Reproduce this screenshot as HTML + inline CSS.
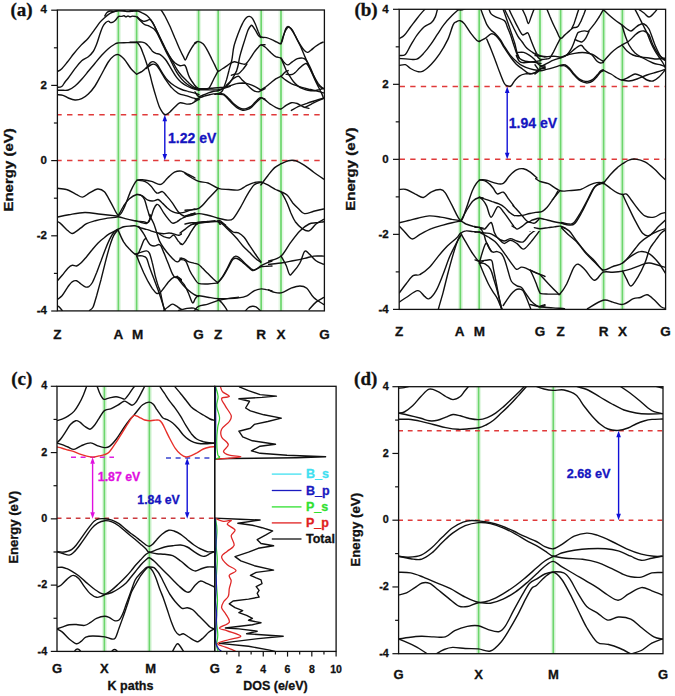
<!DOCTYPE html>
<html><head><meta charset="utf-8"><style>
html,body{margin:0;padding:0;background:#fff;width:675px;height:696px;overflow:hidden}
svg{display:block}
</style></head><body>
<svg width="675" height="696" viewBox="0 0 675 696">
<rect width="675" height="696" fill="#fff"/>
<defs><clipPath id="ca"><rect x="57.4" y="10.0" width="267.0" height="300.9"/></clipPath><clipPath id="cb"><rect x="399.2" y="9.3" width="266.40000000000003" height="300.09999999999997"/></clipPath><clipPath id="cc"><rect x="57.0" y="386.3" width="157.7" height="265.09999999999997"/></clipPath><clipPath id="cd"><rect x="398.6" y="386.7" width="264.4" height="267.00000000000006"/></clipPath><clipPath id="ccd"><rect x="214.7" y="386.3" width="121.40000000000003" height="265.09999999999997"/></clipPath></defs>
<line x1="118.4" y1="10.0" x2="118.4" y2="310.9" stroke="#e4f7e4" stroke-width="5.0"/>
<line x1="118.4" y1="10.0" x2="118.4" y2="310.9" stroke="#6cd66c" stroke-width="1.7"/>
<line x1="136.6" y1="10.0" x2="136.6" y2="310.9" stroke="#e4f7e4" stroke-width="5.0"/>
<line x1="136.6" y1="10.0" x2="136.6" y2="310.9" stroke="#6cd66c" stroke-width="1.7"/>
<line x1="198.6" y1="10.0" x2="198.6" y2="310.9" stroke="#e4f7e4" stroke-width="5.0"/>
<line x1="198.6" y1="10.0" x2="198.6" y2="310.9" stroke="#6cd66c" stroke-width="1.7"/>
<line x1="218.2" y1="10.0" x2="218.2" y2="310.9" stroke="#e4f7e4" stroke-width="5.0"/>
<line x1="218.2" y1="10.0" x2="218.2" y2="310.9" stroke="#6cd66c" stroke-width="1.7"/>
<line x1="261.2" y1="10.0" x2="261.2" y2="310.9" stroke="#e4f7e4" stroke-width="5.0"/>
<line x1="261.2" y1="10.0" x2="261.2" y2="310.9" stroke="#6cd66c" stroke-width="1.7"/>
<line x1="281.0" y1="10.0" x2="281.0" y2="310.9" stroke="#e4f7e4" stroke-width="5.0"/>
<line x1="281.0" y1="10.0" x2="281.0" y2="310.9" stroke="#6cd66c" stroke-width="1.7"/>
<line x1="57.4" y1="114.728" x2="324.4" y2="114.728" stroke="#e03a3a" stroke-width="1.5" stroke-dasharray="5.4 5.35" stroke-dashoffset="1.1"/>
<line x1="57.4" y1="160.6" x2="324.4" y2="160.6" stroke="#e03a3a" stroke-width="1.5" stroke-dasharray="5.4 5.35" stroke-dashoffset="1.1"/>
<g clip-path="url(#ca)" fill="none" stroke-linejoin="round" stroke-linecap="round">
<mask id="m_a" maskUnits="userSpaceOnUse" x="0" y="0" width="675" height="696"><rect x="0" y="0" width="675" height="696" fill="#fff"/><rect x="182" y="225" width="86" height="86" fill="#000"/></mask>
<g mask="url(#m_a)">
<path d="M57.1,71.6 C57.8,71.2 59.5,70.9 61.2,69.3 C62.9,67.7 65.3,64.6 67.4,62.0 C69.5,59.4 71.5,56.5 73.7,53.7 C76.0,50.9 78.5,48.0 80.9,45.4 C83.3,42.8 86.0,40.8 88.2,38.2 C90.5,35.6 92.5,32.5 94.4,29.9 C96.3,27.3 97.9,24.7 99.6,22.6 C101.3,20.5 103.1,18.9 104.8,17.4 C106.5,15.8 108.3,14.3 110.0,13.3 C111.7,12.3 113.7,11.7 115.1,11.2 C116.5,10.7 116.6,10.5 118.3,10.4 C120.0,10.3 123.9,10.4 125.0,10.4" stroke="#111" stroke-width="1.4"/>
<path d="M104.8,16.0 C105.2,15.4 106.1,13.3 107.0,12.5 C107.9,11.7 108.8,11.2 110.0,11.0 C111.2,10.8 112.6,11.5 114.0,11.5 C115.4,11.5 116.1,10.8 118.3,10.8 C120.5,10.8 124.5,11.4 127.0,11.5 C129.4,11.6 131.3,11.3 133.0,11.2 C134.7,11.1 136.3,11.0 137.0,11.0" stroke="#111" stroke-width="1.4"/>
<path d="M57.1,87.3 C57.9,87.2 60.4,87.4 61.7,86.5 C63.0,85.6 63.9,83.4 65.0,82.0 C66.1,80.6 66.6,80.2 68.3,78.0 C70.0,75.8 72.8,71.6 75.0,68.7 C77.2,65.8 79.5,62.7 81.7,60.7 C83.9,58.7 86.4,58.2 88.3,56.7 C90.2,55.2 91.8,53.5 93.2,51.5 C94.6,49.5 95.4,47.2 96.5,44.5 C97.6,41.8 98.6,38.0 99.6,35.0 C100.6,32.0 101.7,28.9 102.7,26.8 C103.7,24.7 104.8,23.6 105.8,22.6 C106.8,21.7 107.6,21.1 108.4,21.1 C109.2,21.1 109.7,22.4 110.5,22.6 C111.3,22.8 112.3,22.4 113.1,22.1 C113.9,21.8 114.4,21.3 115.1,20.6 C115.8,19.9 116.6,18.7 117.2,18.0 C117.8,17.3 118.1,16.7 118.8,16.4 C119.5,16.1 120.5,16.5 121.4,16.4 C122.3,16.3 123.2,15.7 124.0,15.8 C124.8,15.9 125.3,16.8 126.0,16.8 C126.7,16.8 127.3,16.0 128.0,16.0 C128.7,16.0 129.3,16.8 130.0,16.8 C130.7,16.8 131.1,16.2 132.0,16.2 C132.9,16.1 134.9,16.4 135.5,16.5" stroke="#111" stroke-width="1.4"/>
<path d="M57.3,90.3 C58.2,90.3 61.2,90.3 63.0,90.3 C64.8,90.2 66.3,90.7 68.3,90.0 C70.3,89.3 72.8,87.8 75.0,86.0 C77.2,84.2 79.5,81.8 81.7,79.3 C83.9,76.8 86.1,74.0 88.3,71.3 C90.5,68.6 92.8,66.0 95.0,63.3 C97.2,60.6 99.5,57.7 101.7,55.3 C103.9,52.9 106.1,50.6 108.3,48.7 C110.5,46.8 113.3,45.0 115.0,44.0 C116.7,43.0 116.3,43.1 118.3,42.9 C120.3,42.7 124.0,42.7 127.0,42.6 C130.1,42.5 135.0,42.5 136.6,42.5" stroke="#111" stroke-width="1.4"/>
<path d="M57.3,94.7 C58.2,94.8 61.2,94.8 63.0,95.3 C64.8,95.8 66.3,97.2 68.3,98.0 C70.3,98.8 72.8,99.9 75.0,100.0 C77.2,100.1 79.5,99.7 81.7,98.7 C83.9,97.7 86.1,96.1 88.3,94.0 C90.5,91.9 92.8,89.3 95.0,86.0 C97.2,82.7 99.5,78.0 101.7,74.0 C103.9,70.0 106.3,65.0 108.3,62.0 C110.3,59.0 112.0,57.2 113.7,56.0 C115.4,54.8 116.5,54.2 118.3,54.7 C120.1,55.2 122.2,57.0 124.3,59.3 C126.4,61.6 128.9,66.2 131.0,68.7 C133.1,71.2 135.7,73.3 136.6,74.2" stroke="#111" stroke-width="1.4"/>
<path d="M161.0,9.8 C161.6,10.7 163.0,12.7 164.5,15.3 C165.9,18.0 167.9,22.0 169.7,25.7 C171.4,29.4 173.1,33.7 174.8,37.8 C176.6,41.8 178.6,46.7 180.0,49.8 C181.4,53.0 182.5,55.1 183.4,56.7 C184.4,58.4 184.7,60.4 185.5,59.8 C186.4,59.3 187.2,55.8 188.6,53.3 C190.0,50.7 192.5,46.4 193.8,44.7 C195.1,42.9 195.9,42.9 196.4,42.6" stroke="#111" stroke-width="1.4"/>
<path d="M130.0,10.7 C131.1,10.7 134.9,10.3 136.9,10.7 C138.9,11.0 140.3,11.9 142.1,12.8 C143.8,13.6 145.5,14.1 147.2,15.7 C149.0,17.3 150.8,19.7 152.4,22.2 C154.0,24.8 155.3,27.8 156.7,30.9 C158.2,33.9 159.6,37.3 161.0,40.3 C162.5,43.4 163.9,46.2 165.3,49.0 C166.8,51.7 168.1,54.4 169.7,56.7 C171.2,59.0 173.1,61.3 174.8,62.8 C176.6,64.3 178.4,65.3 180.0,65.7 C181.6,66.1 183.3,64.7 184.3,65.0 C185.3,65.3 185.2,65.3 186.0,67.4 C186.9,69.5 188.0,74.5 189.5,77.4 C190.9,80.4 193.1,83.2 194.7,85.2 C196.2,87.1 198.2,88.3 199.0,89.0" stroke="#111" stroke-width="1.4"/>
<path d="M136.9,16.7 C137.5,17.2 139.2,18.9 140.3,19.7 C141.5,20.4 142.6,21.2 143.8,21.4 C144.9,21.5 146.1,20.8 147.2,20.5 C148.3,20.2 149.2,18.9 150.3,19.7 C151.5,20.5 152.9,23.2 154.1,25.3 C155.3,27.5 156.3,29.9 157.6,32.6 C158.9,35.2 160.5,38.3 161.9,41.2 C163.3,44.1 164.6,47.2 166.2,50.2 C167.8,53.2 169.7,56.2 171.4,59.3 C173.1,62.4 174.8,66.1 176.6,68.8 C178.3,71.5 180.0,73.7 181.7,75.7 C183.4,77.7 185.2,79.2 186.9,80.9 C188.6,82.5 190.3,84.4 192.1,85.7 C193.8,87.0 196.1,88.1 197.2,88.6 C198.4,89.2 198.7,88.9 199.0,89.0" stroke="#111" stroke-width="1.4"/>
<path d="M136.9,17.1 C138.0,18.2 141.8,22.5 143.8,24.0 C145.8,25.5 147.2,25.2 149.0,26.0 C150.7,26.9 152.6,27.7 154.1,29.1 C155.6,30.6 156.6,32.4 157.9,34.7 C159.2,37.0 160.5,40.1 161.9,42.9 C163.3,45.8 164.6,48.7 166.2,51.9 C167.8,55.1 169.7,58.5 171.4,61.9 C173.1,65.3 174.8,69.4 176.6,72.2 C178.3,75.1 180.0,77.2 181.7,79.1 C183.4,81.1 185.2,82.6 186.9,84.0 C188.6,85.3 190.1,86.4 192.1,87.4 C194.1,88.4 197.8,89.4 199.0,89.8" stroke="#111" stroke-width="1.4"/>
<path d="M130.0,42.1 C131.1,42.1 134.9,42.1 136.9,42.1 C138.9,42.1 140.6,41.9 142.1,42.1 C143.5,42.3 144.4,42.5 145.5,43.3 C146.7,44.1 147.8,45.4 149.0,46.7 C150.1,48.0 151.3,50.1 152.4,51.2 C153.6,52.3 154.7,52.8 155.9,53.3 C157.0,53.8 158.2,53.6 159.3,54.1 C160.5,54.7 161.6,55.7 162.8,56.7 C163.9,57.8 164.8,58.4 166.2,60.5 C167.6,62.6 169.7,66.3 171.4,69.1 C173.1,72.0 174.8,75.2 176.6,77.4 C178.3,79.7 180.0,81.1 181.7,82.6 C183.4,84.0 185.2,85.1 186.9,86.0 C188.6,87.0 190.1,87.7 192.1,88.4 C194.1,89.2 197.8,90.0 199.0,90.3" stroke="#111" stroke-width="1.4"/>
<path d="M136.9,42.1 C137.5,42.8 139.2,44.5 140.3,46.7 C141.5,48.9 142.6,52.2 143.8,55.3 C144.9,58.4 146.2,62.2 147.2,65.3 C148.2,68.4 149.0,70.8 149.8,74.0 C150.7,77.1 151.4,80.6 152.4,84.3 C153.4,88.0 154.7,92.6 155.9,96.4 C157.0,100.1 158.2,104.0 159.3,106.7 C160.5,109.5 161.8,111.4 162.8,112.8 C163.8,114.1 164.2,114.7 165.3,114.7 C166.5,114.6 168.1,113.5 169.7,112.2 C171.2,111.0 173.1,108.6 174.8,107.1 C176.6,105.5 178.0,103.2 180.0,102.8 C182.0,102.3 184.9,104.1 186.9,104.1 C188.9,104.2 190.1,104.1 192.1,103.3 C194.1,102.4 197.8,99.8 199.0,99.1" stroke="#111" stroke-width="1.4"/>
<path d="M136.9,74.0 C137.8,73.5 140.3,72.6 142.1,71.4 C143.8,70.2 145.8,68.2 147.2,66.7 C148.7,65.2 149.5,63.2 150.7,62.4 C151.8,61.6 153.0,61.5 154.1,61.9 C155.3,62.3 156.1,63.0 157.6,65.0 C159.0,67.0 161.0,71.0 162.8,73.6 C164.5,76.2 165.9,78.4 167.9,80.5 C169.9,82.6 172.5,84.5 174.8,86.0 C177.1,87.5 179.4,88.6 181.7,89.5 C184.0,90.4 186.3,90.9 188.6,91.6 C190.9,92.2 193.8,92.8 195.5,93.3 C197.2,93.8 198.4,94.4 199.0,94.7" stroke="#111" stroke-width="1.4"/>
<path d="M146.4,68.4 C147.2,67.8 150.0,65.1 151.6,64.5 C153.1,63.9 154.4,64.0 155.9,65.0 C157.3,66.0 158.6,68.2 160.2,70.5 C161.8,72.9 163.5,76.3 165.3,79.1 C167.2,82.0 169.2,85.1 171.4,87.4 C173.5,89.8 175.7,91.9 178.3,93.3 C180.9,94.7 184.3,95.1 186.9,95.9 C189.5,96.7 191.8,97.5 193.8,98.1 C195.8,98.7 198.1,99.3 199.0,99.5" stroke="#111" stroke-width="1.4"/>
<path d="M195.0,42.6 C195.6,42.4 197.2,41.3 198.6,41.6 C200.0,41.8 201.8,42.7 203.3,44.1 C204.8,45.6 206.1,48.0 207.4,50.4 C208.8,52.8 210.4,56.2 211.6,58.7 C212.8,61.1 213.6,62.8 214.7,64.9 C215.8,67.0 216.8,70.4 218.0,71.1 C219.2,71.8 220.6,69.8 222.0,69.0 C223.3,68.3 224.7,67.4 226.1,66.4 C227.5,65.5 228.9,64.1 230.3,63.3 C231.6,62.6 233.0,61.9 234.4,61.8 C235.8,61.7 237.2,62.5 238.6,62.8 C239.9,63.2 241.5,63.7 242.7,63.9 C243.9,64.0 244.6,64.7 245.8,63.9 C247.0,63.0 248.6,60.6 250.0,58.7 C251.3,56.8 252.7,54.3 254.1,52.4 C255.5,50.5 257.2,48.5 258.3,47.3 C259.3,46.0 259.4,45.6 260.5,45.2 C261.7,44.8 264.3,44.8 265.0,44.7" stroke="#111" stroke-width="1.4"/>
<path d="M195.0,88.7 C195.9,88.8 198.5,89.2 200.2,89.3 C201.9,89.3 204.0,89.3 205.4,89.3 C206.8,89.2 207.4,89.7 208.5,88.7 C209.5,87.8 210.6,85.5 211.6,83.6 C212.6,81.7 213.6,79.4 214.7,77.3 C215.8,75.3 217.5,72.1 218.0,71.1" stroke="#111" stroke-width="1.4"/>
<path d="M195.0,91.9 C195.6,92.6 197.2,96.0 198.6,96.5 C200.0,97.0 201.7,95.6 203.3,95.0 C204.9,94.4 206.8,93.5 208.5,92.9 C210.2,92.3 212.1,91.7 213.7,91.3 C215.3,91.0 216.5,91.2 218.0,90.8 C219.6,90.4 221.3,89.8 223.0,88.7 C224.7,87.7 226.6,86.2 228.2,84.6 C229.7,83.0 231.0,81.1 232.3,78.9 C233.7,76.6 235.8,72.4 236.5,71.1" stroke="#111" stroke-width="1.4"/>
<path d="M231.3,75.3 C231.8,75.1 233.2,74.5 234.4,74.2 C235.6,74.0 237.2,74.5 238.6,73.7 C239.9,72.9 241.3,71.2 242.7,69.6 C244.1,67.9 246.2,65.0 246.9,64.1" stroke="#111" stroke-width="1.4"/>
<path d="M226.1,85.6 C226.8,84.9 228.9,82.8 230.3,81.5 C231.6,80.2 233.0,78.7 234.4,77.9 C235.8,77.0 237.3,76.0 238.6,76.3 C239.8,76.6 240.5,78.2 241.7,79.4 C242.9,80.6 244.4,82.2 245.8,83.6 C247.2,84.9 248.6,86.5 250.0,87.7 C251.3,88.9 252.7,90.1 254.1,90.8 C255.5,91.5 257.2,91.9 258.3,91.9 C259.3,91.9 259.4,91.3 260.5,90.8 C261.7,90.3 264.3,89.1 265.0,88.7" stroke="#111" stroke-width="1.4"/>
<path d="M195.0,87.7 C195.6,87.9 196.9,88.6 198.6,88.7 C200.4,88.9 203.4,88.8 205.4,88.7 C207.4,88.7 208.4,88.4 210.6,88.2 C212.7,88.0 215.8,87.9 218.0,87.7 C220.3,87.5 222.0,87.5 224.0,87.2 C226.1,86.8 228.2,86.2 230.3,85.6 C232.3,85.0 234.4,84.0 236.5,83.6 C238.6,83.1 240.6,83.0 242.7,83.0 C244.8,83.1 246.9,83.5 248.9,84.1 C251.0,84.7 253.2,85.7 255.1,86.7 C257.1,87.6 259.6,89.3 260.5,89.8" stroke="#111" stroke-width="1.4"/>
<path d="M198.6,89.8 C199.8,89.8 202.1,89.8 205.4,89.8 C208.6,89.8 214.6,90.1 218.0,89.8 C221.5,89.4 224.1,88.3 226.1,87.7 C228.2,87.1 229.6,86.4 230.3,86.1" stroke="#111" stroke-width="1.4"/>
<path d="M195.0,100.1 C195.6,99.8 197.2,98.7 198.6,98.1 C200.0,97.5 201.7,97.0 203.3,96.5 C204.9,96.0 206.8,95.4 208.5,95.0 C210.2,94.5 212.1,94.1 213.7,93.9 C215.3,93.8 216.5,93.9 218.0,93.9 C219.6,93.9 221.7,93.6 223.0,93.9 C224.3,94.3 224.9,95.0 226.1,96.0 C227.3,97.0 228.9,98.8 230.3,100.1 C231.6,101.5 233.0,103.1 234.4,104.3 C235.8,105.5 237.2,106.6 238.6,107.4 C239.9,108.2 241.3,108.8 242.7,109.0 C244.1,109.1 245.5,108.9 246.9,108.4 C248.2,108.0 249.6,107.4 251.0,106.4 C252.4,105.3 253.9,103.4 255.1,102.2 C256.4,101.0 257.4,99.9 258.3,99.1 C259.2,98.3 259.4,97.6 260.5,97.6 C261.7,97.6 264.3,98.9 265.0,99.1" stroke="#111" stroke-width="1.4"/>
<path d="M218.0,94.4 C218.9,94.5 221.7,94.2 223.0,94.7 C224.3,95.1 224.9,95.9 226.1,97.0 C227.3,98.2 228.9,100.0 230.3,101.4 C231.6,102.8 233.0,104.3 234.4,105.5 C235.8,106.8 237.2,107.9 238.6,108.7 C239.9,109.4 241.3,110.0 242.7,110.2 C244.1,110.4 245.5,110.1 246.9,109.7 C248.2,109.3 249.6,108.7 251.0,107.6 C252.4,106.6 253.6,105.0 255.1,103.5 C256.7,102.0 259.6,99.4 260.5,98.6" stroke="#111" stroke-width="1.4"/>
<path d="M214.9,94.4 C215.7,94.1 218.3,93.7 219.5,93.0 C220.8,92.4 221.3,92.9 222.5,90.7 C223.6,88.5 225.4,83.2 226.5,79.9 C227.5,76.5 228.0,74.0 228.9,70.7 C229.7,67.4 231.0,64.2 231.8,60.1 C232.7,56.1 232.8,51.0 233.9,46.5 C235.0,42.0 236.9,37.1 238.3,33.2 C239.8,29.2 241.4,25.4 242.8,22.8 C244.1,20.2 245.4,18.7 246.5,17.6 C247.6,16.6 248.5,16.3 249.4,16.4 C250.4,16.6 251.4,17.1 252.4,18.4 C253.4,19.7 254.4,22.1 255.4,24.3 C256.4,26.5 257.4,29.6 258.3,31.7 C259.3,33.8 259.6,35.9 261.0,36.9 C262.4,37.9 264.6,37.1 266.5,37.6 C268.4,38.1 270.7,39.1 272.4,39.9 C274.1,40.6 275.4,41.5 276.9,42.1 C278.3,42.7 279.9,44.5 281.0,43.6 C282.1,42.6 282.7,38.6 283.5,36.1 C284.3,33.7 285.0,30.3 285.7,28.7 C286.5,27.1 287.1,26.5 288.0,26.5 C288.8,26.5 289.8,27.4 290.9,28.7 C292.0,30.1 293.3,32.3 294.6,34.7 C296.0,37.0 297.6,40.3 299.1,42.8 C300.6,45.3 302.2,47.9 303.5,49.5 C304.9,51.1 306.0,52.3 307.2,52.4 C308.5,52.6 309.6,51.2 310.9,50.2 C312.3,49.2 313.9,47.6 315.4,46.5 C316.9,45.4 318.5,44.3 319.8,43.6 C321.1,42.8 322.7,42.3 323.2,42.1" stroke="#111" stroke-width="1.4"/>
<path d="M236.5,71.1 C236.8,70.1 237.7,67.4 238.2,65.0 C238.7,62.6 239.0,59.9 239.7,56.9 C240.4,53.9 241.6,49.9 242.6,46.7 C243.6,43.5 244.6,40.5 245.5,37.6 C246.4,34.8 247.5,31.5 248.3,29.6 C249.2,27.7 249.9,26.7 250.6,26.0 C251.2,25.3 251.4,24.9 252.2,25.6 C253.0,26.3 254.4,28.6 255.4,30.2 C256.4,31.8 257.4,34.2 258.3,35.4 C259.2,36.6 260.6,37.2 261.0,37.6" stroke="#111" stroke-width="1.4"/>
<path d="M281.0,43.6 C281.5,41.8 283.2,35.8 284.3,33.2 C285.3,30.6 286.4,29.0 287.2,28.0 C288.1,27.0 288.6,26.9 289.4,27.3 C290.3,27.6 291.3,28.5 292.4,30.2 C293.5,32.0 294.8,34.9 296.1,37.6 C297.5,40.3 299.1,43.3 300.6,46.5 C302.0,49.7 303.5,53.4 305.0,56.9 C306.5,60.3 308.0,64.0 309.4,67.3 C310.9,70.5 312.4,73.4 313.9,76.1 C315.4,78.9 316.8,81.5 318.3,83.6 C319.9,85.7 322.4,87.9 323.2,88.7" stroke="#111" stroke-width="1.4"/>
<path d="M261.2,44.7 C261.9,45.1 263.8,46.0 265.4,47.3 C266.9,48.6 268.8,50.9 270.6,52.4 C272.3,54.0 274.0,55.6 275.7,56.6 C277.5,57.5 279.5,57.2 280.9,58.1 C282.3,59.1 282.9,61.2 284.0,62.3 C285.2,63.4 286.3,65.0 287.7,64.9 C289.0,64.8 290.7,62.8 292.3,61.8 C294.0,60.7 295.8,59.3 297.5,58.7 C299.2,58.1 301.2,57.9 302.7,58.1 C304.2,58.4 305.1,58.8 306.3,60.2 C307.5,61.7 308.8,64.6 310.0,67.0 C311.1,69.3 312.0,71.8 313.1,74.2 C314.1,76.6 315.1,79.5 316.2,81.5 C317.2,83.5 318.1,84.9 319.3,86.1 C320.5,87.4 322.8,88.3 323.4,88.7" stroke="#111" stroke-width="1.4"/>
<path d="M280.9,58.1 C281.4,59.1 282.7,61.9 283.5,63.9 C284.4,65.8 285.2,68.2 286.1,70.1 C287.1,72.0 288.0,73.4 289.2,75.3 C290.4,77.2 292.0,79.8 293.4,81.5 C294.8,83.2 296.0,84.4 297.5,85.6 C299.1,86.8 301.0,88.0 302.7,88.7 C304.4,89.5 306.0,90.0 307.9,90.3 C309.8,90.6 312.2,90.9 314.1,90.8 C316.0,90.7 317.7,90.0 319.3,89.6 C320.9,89.1 322.8,88.4 323.4,88.2" stroke="#111" stroke-width="1.4"/>
<path d="M261.2,89.8 C261.9,89.3 263.8,88.3 265.4,87.2 C266.9,86.1 268.8,84.4 270.6,83.0 C272.3,81.7 274.0,80.0 275.7,78.9 C277.5,77.8 279.4,77.4 280.9,76.3 C282.5,75.2 283.9,73.1 285.1,72.1 C286.3,71.2 287.7,70.9 288.2,70.6" stroke="#111" stroke-width="1.4"/>
<path d="M280.9,76.3 C281.8,77.0 284.4,79.2 286.1,80.4 C287.8,81.7 289.6,82.7 291.3,83.6 C293.0,84.4 294.6,84.9 296.5,85.6 C298.4,86.3 300.6,87.1 302.7,87.7 C304.8,88.3 306.9,88.8 308.9,89.3 C311.0,89.7 313.2,90.2 315.1,90.6 C317.0,91.0 319.0,91.5 320.3,91.9 C321.7,92.2 322.9,92.7 323.4,92.9" stroke="#111" stroke-width="1.4"/>
<path d="M286.1,74.2 C286.8,74.3 288.9,74.9 290.3,74.7 C291.6,74.6 292.9,74.3 294.4,73.2 C296.0,72.1 297.9,69.6 299.6,68.0 C301.3,66.4 303.6,64.5 304.8,63.9 C306.0,63.2 306.2,63.3 306.9,63.9 C307.5,64.4 308.1,65.4 308.9,67.0 C309.8,68.5 310.8,70.6 312.0,73.2 C313.2,75.8 315.0,79.9 316.2,82.5 C317.4,85.1 318.3,86.8 319.3,88.7 C320.2,90.6 321.2,92.4 321.9,93.9 C322.6,95.5 323.2,97.4 323.4,98.1" stroke="#111" stroke-width="1.4"/>
<path d="M261.2,97.6 C261.9,98.0 263.8,99.0 265.4,100.1 C266.9,101.3 268.8,103.1 270.6,104.3 C272.3,105.5 274.0,106.6 275.7,107.4 C277.5,108.2 279.2,109.3 280.9,109.0 C282.7,108.6 284.4,106.4 286.1,105.3 C287.8,104.3 289.6,103.1 291.3,102.7 C293.0,102.4 294.9,102.8 296.5,103.3 C298.0,103.7 299.2,104.6 300.6,105.3 C302.0,106.0 303.4,106.9 304.8,107.4 C306.2,107.9 308.2,108.3 308.9,108.4" stroke="#111" stroke-width="1.4"/>
<path d="M291.3,110.5 C292.5,109.8 296.0,107.6 298.6,106.4 C301.1,105.2 304.1,104.2 306.9,103.3 C309.6,102.3 312.4,101.5 315.1,100.7 C317.9,99.8 322.1,98.5 323.4,98.1" stroke="#111" stroke-width="1.4"/>
<path d="M304.8,107.4 C305.8,106.9 308.9,105.3 311.0,104.3 C313.1,103.3 315.1,102.1 317.2,101.2 C319.3,100.2 322.4,99.0 323.4,98.6" stroke="#111" stroke-width="1.4"/>
<path d="M57.3,188.3 C58.8,188.5 63.4,188.5 66.5,189.5 C69.6,190.4 73.0,192.8 75.7,194.1 C78.4,195.3 80.3,197.3 82.6,197.1 C84.9,196.9 87.0,194.3 89.5,192.9 C92.0,191.6 95.0,189.2 97.5,189.0 C100.0,188.8 102.1,189.4 104.4,191.8 C106.7,194.2 109.0,199.4 111.3,203.3 C113.7,207.2 116.3,214.5 118.4,215.2 C120.6,216.0 121.9,212.0 124.0,207.9 C126.0,203.8 128.8,195.2 130.9,190.6 C133.0,186.1 134.7,182.5 136.6,180.7 C138.5,178.9 139.9,179.7 142.4,179.8 C144.8,179.9 148.5,180.7 151.6,181.4 C154.6,182.2 158.1,185.0 160.7,184.4 C163.4,183.9 165.3,180.0 167.6,178.0 C169.9,176.0 172.2,173.4 174.5,172.2 C176.8,171.1 179.1,170.7 181.4,171.1 C183.7,171.5 186.1,173.4 188.3,174.5 C190.6,175.7 193.9,177.4 195.0,178.0" stroke="#111" stroke-width="1.4"/>
<path d="M57.3,217.1 C59.2,216.7 64.2,215.5 68.8,214.8 C73.4,214.0 79.5,212.5 84.9,212.5 C90.2,212.4 95.4,213.7 101.0,214.3 C106.6,214.9 115.5,215.8 118.4,216.1" stroke="#111" stroke-width="1.4"/>
<path d="M57.2,221.5 C57.8,221.8 59.2,222.3 60.7,223.6 C62.3,224.9 64.7,227.7 66.5,229.4 C68.3,231.0 70.1,232.9 71.5,233.4 C73.0,233.9 73.6,233.2 75.1,232.2 C76.7,231.3 78.9,229.4 80.9,227.9 C82.8,226.5 84.2,224.8 86.6,223.6 C89.0,222.4 92.1,221.6 95.2,220.7 C98.3,219.9 102.4,219.1 105.3,218.6 C108.2,218.1 110.4,217.9 112.5,217.6 C114.6,217.3 116.9,216.9 117.8,216.7" stroke="#111" stroke-width="1.4"/>
<path d="M57.2,281.1 C58.0,280.1 60.4,277.5 62.2,275.3 C64.0,273.2 66.3,269.8 67.9,268.2 C69.6,266.5 70.8,265.6 72.2,265.3 C73.7,264.9 75.1,266.4 76.6,266.0 C78.0,265.6 79.2,264.7 80.9,263.1 C82.5,261.6 84.7,258.9 86.6,256.7 C88.5,254.4 90.4,251.8 92.4,249.5 C94.3,247.2 96.2,244.9 98.1,243.0 C100.0,241.1 101.9,239.5 103.9,238.0 C105.8,236.4 107.7,234.9 109.6,233.7 C111.5,232.5 114.0,231.5 115.3,230.8 C116.7,230.1 117.4,229.6 117.8,229.4" stroke="#111" stroke-width="1.4"/>
<path d="M57.2,299.8 C58.0,299.1 60.4,297.6 62.2,295.5 C64.0,293.3 66.3,289.1 67.9,286.8 C69.6,284.6 70.8,282.8 72.2,281.8 C73.7,280.8 75.1,280.4 76.6,280.8 C78.0,281.2 79.4,283.0 80.9,284.0 C82.3,285.0 83.9,286.4 85.2,286.8 C86.5,287.3 87.6,287.3 88.8,286.6 C90.0,285.8 91.0,284.9 92.4,282.5 C93.7,280.2 95.2,276.1 96.7,272.5 C98.1,268.9 99.5,264.8 101.0,261.0 C102.4,257.1 103.9,253.1 105.3,249.5 C106.7,245.9 108.2,242.3 109.6,239.4 C111.0,236.6 112.5,233.9 113.9,232.2 C115.3,230.6 117.1,229.8 117.8,229.4" stroke="#111" stroke-width="1.4"/>
<path d="M89.5,310.5 C90.1,309.9 91.9,309.5 93.1,307.0 C94.3,304.4 95.3,300.0 96.7,295.5 C98.0,290.9 99.5,285.2 101.0,279.7 C102.4,274.1 103.9,267.9 105.3,262.4 C106.7,256.9 108.2,251.2 109.6,246.6 C111.0,242.1 112.5,237.9 113.9,235.1 C115.3,232.4 117.1,230.9 117.8,230.1" stroke="#111" stroke-width="1.4"/>
<path d="M57.2,306.2 C57.5,306.4 58.5,306.2 59.3,307.0 C60.1,307.7 61.7,309.9 62.2,310.5" stroke="#111" stroke-width="1.4"/>
<path d="M136.8,180.1 C138.2,180.4 142.8,180.6 145.2,181.6 C147.5,182.5 149.0,183.9 150.9,185.9 C152.8,187.8 154.8,192.1 156.7,193.0 C158.6,194.0 160.7,191.1 162.4,191.6 C164.1,192.1 165.0,194.0 166.7,195.9 C168.4,197.8 170.6,200.5 172.5,203.1 C174.4,205.7 176.3,209.6 178.2,211.7 C180.1,213.9 182.0,215.6 184.0,216.0 C185.9,216.5 187.9,215.1 189.7,214.6 C191.6,214.1 194.1,213.4 195.0,213.2" stroke="#111" stroke-width="1.4"/>
<path d="M118.2,216.0 C119.1,214.4 121.8,208.9 123.6,206.0 C125.5,203.1 127.2,200.7 129.4,198.8 C131.6,196.9 134.8,195.0 136.8,194.5 C138.9,194.0 140.3,194.8 141.6,195.6 C142.8,196.5 143.5,197.3 144.5,199.5 C145.4,201.7 146.5,206.1 147.3,208.9 C148.2,211.6 149.1,214.8 149.5,216.0" stroke="#111" stroke-width="1.4"/>
<path d="M136.8,194.5 C137.7,194.7 140.4,195.0 142.3,195.9 C144.2,196.9 146.1,199.4 148.0,200.2 C150.0,201.1 152.1,201.1 153.8,200.9 C155.5,200.8 156.7,199.2 158.1,199.5 C159.5,199.9 161.0,201.8 162.4,203.1 C163.9,204.4 165.0,206.0 166.7,207.4 C168.4,208.9 170.6,210.8 172.5,211.7 C174.4,212.7 176.3,213.0 178.2,213.2 C180.1,213.3 182.0,212.9 184.0,212.4 C185.9,212.0 187.9,210.9 189.7,210.3 C191.6,209.7 194.1,209.1 195.0,208.9" stroke="#111" stroke-width="1.4"/>
<path d="M118.2,216.8 C119.1,217.0 121.8,217.7 123.6,218.2 C125.5,218.7 127.2,219.1 129.4,219.6 C131.5,220.1 134.2,220.7 136.6,221.1 C138.9,221.4 141.8,221.5 143.7,221.8 C145.7,222.0 146.8,223.2 148.0,222.5 C149.2,221.8 150.0,219.7 150.9,217.5 C151.9,215.2 152.8,211.0 153.8,208.9 C154.8,206.7 155.7,205.0 156.7,204.5 C157.6,204.1 158.3,204.5 159.5,206.0 C160.7,207.4 162.4,211.0 163.9,213.2 C165.3,215.3 166.7,217.2 168.2,218.9 C169.6,220.6 171.0,222.7 172.5,223.2 C173.9,223.7 175.3,222.5 176.8,221.8 C178.2,221.1 179.4,219.9 181.1,218.9 C182.8,218.0 184.5,217.0 186.8,216.0 C189.2,215.1 193.7,213.6 195.0,213.2" stroke="#111" stroke-width="1.4"/>
<path d="M118.2,230.4 C119.1,232.3 121.8,238.8 123.6,241.9 C125.5,245.0 127.2,246.9 129.4,249.1 C131.6,251.2 134.9,255.1 136.8,254.8 C138.8,254.6 139.7,250.0 140.9,247.6 C142.0,245.2 142.9,242.0 143.7,240.5 C144.6,238.9 145.5,238.7 145.9,238.3" stroke="#111" stroke-width="1.4"/>
<path d="M118.5,228.9 C119.4,228.6 121.9,227.3 123.8,226.8 C125.6,226.3 127.7,226.2 129.5,226.1 C131.4,225.9 133.1,225.5 135.0,225.8 C136.9,226.1 138.8,227.3 140.7,227.9 C142.7,228.5 144.8,228.9 146.5,229.4 C148.2,229.8 148.9,230.2 150.8,230.8 C152.7,231.4 155.8,232.5 158.0,233.0 C160.1,233.4 161.8,233.7 163.7,233.7 C165.7,233.7 167.6,232.8 169.5,233.0 C171.4,233.1 173.6,234.0 175.2,234.4 C176.9,234.8 177.9,235.7 179.5,235.1 C181.2,234.5 183.4,232.5 185.3,230.8 C187.2,229.1 188.9,226.5 191.0,225.1 C193.2,223.6 195.6,222.8 198.2,222.2 C200.9,221.6 204.0,221.7 206.8,221.5 C209.6,221.2 213.7,220.9 215.0,220.7" stroke="#111" stroke-width="1.4"/>
<path d="M135.0,220.7 C136.0,221.0 138.8,221.7 140.7,222.2 C142.7,222.7 145.1,224.0 146.5,223.6 C147.9,223.3 148.7,221.5 149.4,220.0 C150.0,218.6 150.3,215.8 150.5,215.0" stroke="#111" stroke-width="1.4"/>
<path d="M149.4,215.0 C150.1,216.4 152.5,220.7 153.7,223.6 C154.9,226.5 155.6,229.4 156.6,232.2 C157.5,235.1 158.2,238.2 159.4,240.9 C160.6,243.5 162.1,245.7 163.7,248.0 C165.4,250.4 167.6,253.1 169.5,255.2 C171.4,257.4 173.8,259.9 175.2,261.0 C176.7,262.1 177.1,262.1 178.1,261.7 C179.1,261.3 180.0,259.4 181.0,258.8 C181.9,258.2 182.7,257.5 183.9,258.1 C185.0,258.7 186.7,261.5 188.2,262.4 C189.6,263.4 190.8,263.5 192.5,263.9 C194.1,264.2 196.3,264.1 198.2,264.6 C200.1,265.0 202.0,265.4 204.0,266.7 C205.9,268.0 207.9,270.6 209.7,272.5 C211.6,274.4 214.1,277.3 215.0,278.2" stroke="#111" stroke-width="1.4"/>
<path d="M158.0,233.0 C158.9,233.6 161.8,235.7 163.7,236.6 C165.7,237.4 167.8,238.2 169.5,238.0 C171.2,237.7 172.4,234.6 173.8,235.1 C175.2,235.6 176.7,239.3 178.1,240.9 C179.5,242.4 181.2,244.5 182.4,244.5 C183.6,244.5 184.1,242.9 185.3,240.9 C186.5,238.8 187.9,234.9 189.6,232.2 C191.3,229.6 193.9,226.6 195.3,225.1 C196.8,223.5 197.7,223.3 198.2,222.9" stroke="#111" stroke-width="1.4"/>
<path d="M138.6,226.5 C139.4,227.7 142.1,231.2 143.6,233.7 C145.2,236.2 146.7,239.7 147.9,241.6 C149.1,243.5 149.6,244.5 150.8,245.2 C152.0,245.9 153.8,246.0 155.1,245.9 C156.4,245.8 157.7,244.5 158.7,244.5 C159.7,244.5 160.0,244.6 160.9,245.9 C161.7,247.2 162.8,250.1 163.7,252.4 C164.7,254.6 165.7,257.1 166.6,259.5 C167.6,261.9 168.5,264.3 169.5,266.7 C170.4,269.1 171.4,272.1 172.4,273.9 C173.3,275.7 174.0,276.8 175.2,277.5 C176.4,278.2 178.1,277.4 179.5,278.2 C181.0,279.1 182.4,280.4 183.9,282.5 C185.3,284.7 186.7,288.3 188.2,291.1 C189.6,294.0 191.3,298.0 192.5,299.8 C193.7,301.6 194.4,302.2 195.3,301.9 C196.3,301.7 196.8,299.3 198.2,298.3 C199.7,297.4 201.2,296.3 204.0,296.2 C206.8,296.1 213.2,297.4 215.0,297.6" stroke="#111" stroke-width="1.4"/>
<path d="M135.0,253.8 C135.3,253.8 135.8,254.0 136.7,253.8 C137.7,253.6 139.1,252.8 140.7,252.4 C142.4,251.9 145.1,250.8 146.5,250.9 C147.9,251.0 148.4,251.2 149.4,253.1 C150.3,255.0 151.3,258.7 152.2,262.4 C153.2,266.1 154.2,271.5 155.1,275.3 C156.1,279.2 157.2,282.8 158.0,285.4 C158.8,288.0 159.4,288.5 160.1,291.1 C160.9,293.8 161.6,298.0 162.3,301.2 C163.0,304.4 164.1,309.0 164.5,310.5" stroke="#111" stroke-width="1.4"/>
<path d="M136.7,255.9 C137.6,255.9 140.6,255.6 142.2,255.9 C143.8,256.3 145.3,256.3 146.5,258.1 C147.7,259.9 148.2,263.4 149.4,266.7 C150.6,270.1 152.2,274.4 153.7,278.2 C155.1,282.0 156.8,286.4 158.0,289.7 C159.2,293.1 159.9,295.5 160.9,298.3 C161.8,301.2 163.0,304.9 163.7,307.0 C164.5,309.0 164.9,309.9 165.2,310.5" stroke="#111" stroke-width="1.4"/>
<path d="M136.7,255.9 C137.2,257.0 138.2,259.7 139.3,262.4 C140.5,265.2 142.2,269.4 143.6,272.5 C145.1,275.6 146.5,278.5 147.9,281.1 C149.4,283.7 150.8,286.2 152.2,288.3 C153.7,290.3 155.2,292.6 156.6,293.3 C157.9,294.0 158.9,293.4 160.1,292.6 C161.3,291.7 162.4,290.0 163.7,288.3 C165.1,286.6 166.6,284.2 168.0,282.5 C169.5,280.9 170.9,279.2 172.4,278.2 C173.8,277.3 175.2,276.5 176.7,276.8 C178.1,277.0 179.5,278.0 181.0,279.7 C182.4,281.3 183.9,284.2 185.3,286.8 C186.7,289.5 188.2,292.9 189.6,295.5 C191.0,298.0 193.2,300.8 193.9,301.9" stroke="#111" stroke-width="1.4"/>
<path d="M163.7,310.5 C164.5,309.9 166.6,308.0 168.0,307.0 C169.5,305.9 170.9,304.2 172.4,304.1 C173.8,304.0 175.2,305.4 176.7,306.2 C178.1,307.1 179.5,308.4 181.0,309.1 C182.4,309.8 184.6,310.3 185.3,310.5" stroke="#111" stroke-width="1.4"/>
<path d="M198.2,310.5 C199.7,310.2 204.0,309.0 206.8,308.4 C209.6,307.8 213.7,307.2 215.0,307.0" stroke="#111" stroke-width="1.4"/>
<path d="M198.2,282.5 C199.2,282.6 202.0,283.1 204.0,283.2 C205.9,283.4 207.9,283.6 209.7,283.7 C211.6,283.8 214.1,283.9 215.0,284.0" stroke="#111" stroke-width="1.4"/>
<path d="M182.4,258.1 C183.1,258.6 185.3,259.1 186.7,261.0 C188.2,262.9 189.6,266.7 191.0,269.6 C192.5,272.5 194.1,276.1 195.3,278.2 C196.5,280.4 197.7,281.8 198.2,282.5" stroke="#111" stroke-width="1.4"/>
<path d="M260.9,184.9 C262.0,183.4 265.5,178.6 267.8,175.7 C270.1,172.8 272.4,169.6 274.7,167.6 C276.9,165.7 278.8,164.9 281.1,163.7 C283.4,162.6 286.1,161.2 288.4,160.7 C290.8,160.2 292.7,160.0 295.3,160.7 C298.0,161.5 301.5,163.4 304.5,165.3 C307.6,167.3 310.6,169.9 313.7,172.2 C316.9,174.5 322.0,178.0 323.6,179.1" stroke="#111" stroke-width="1.4"/>
<path d="M185.0,173.4 C186.1,174.2 189.6,176.6 191.9,178.0 C194.2,179.3 196.1,180.6 198.8,181.4 C201.5,182.3 204.7,181.9 208.0,183.0 C211.2,184.2 214.9,187.3 218.3,188.3 C221.8,189.4 225.2,189.2 228.7,189.5 C232.1,189.8 236.1,190.5 239.0,189.9 C241.9,189.4 243.4,187.3 245.9,186.0 C248.4,184.8 251.4,183.2 254.0,182.6 C256.5,181.9 259.0,181.7 261.3,182.1 C263.6,182.5 265.5,183.7 267.8,184.9 C270.0,186.0 272.4,187.9 274.7,189.0 C276.9,190.2 279.0,190.7 281.1,191.8 C283.2,192.8 285.3,193.3 287.3,195.2 C289.3,197.1 291.1,201.0 293.0,203.3 C295.0,205.6 296.9,207.3 298.8,209.0 C300.7,210.7 302.0,213.2 304.5,213.6 C307.0,214.0 310.6,212.1 313.7,211.3 C316.9,210.6 322.0,209.4 323.6,209.0" stroke="#111" stroke-width="1.4"/>
<path d="M185.0,210.2 C187.3,209.9 195.0,210.2 198.8,208.3 C202.6,206.5 204.7,202.5 208.0,199.1 C211.2,195.8 216.6,190.1 218.3,188.3" stroke="#111" stroke-width="1.4"/>
<path d="M185.0,216.6 C186.1,216.4 189.6,215.7 191.9,215.2 C194.2,214.7 196.1,213.6 198.8,213.6 C201.5,213.6 204.7,214.5 208.0,215.2 C211.2,216.0 215.1,217.4 218.3,218.2 C221.6,219.0 225.0,220.0 227.5,220.1 C230.0,220.1 231.2,220.5 233.3,218.4 C235.4,216.4 237.9,211.7 240.2,207.9 C242.5,204.0 244.8,199.1 247.1,195.2 C249.4,191.4 251.6,187.1 254.0,184.9 C256.3,182.7 260.1,182.6 261.3,182.1" stroke="#111" stroke-width="1.4"/>
<path d="M185.0,224.0 C186.1,223.8 189.6,223.0 191.9,222.8 C194.2,222.6 196.1,222.9 198.8,222.8 C201.5,222.7 204.7,222.3 208.0,222.1 C211.2,221.9 215.7,221.4 218.3,221.7 C221.0,222.0 222.0,222.4 224.1,224.0 C226.2,225.5 228.3,227.8 231.0,230.9 C233.7,233.9 237.1,238.9 240.2,242.4 C243.2,245.8 246.7,248.9 249.4,251.6 C252.0,254.2 254.3,256.7 256.3,258.4 C258.3,260.2 259.0,261.5 261.3,261.9 C263.6,262.3 266.8,261.7 270.1,260.7 C273.4,259.8 277.6,259.2 281.1,256.1 C284.5,253.1 287.6,246.6 290.7,242.4 C293.9,238.1 296.9,233.9 299.9,230.9 C303.0,227.8 306.5,225.3 309.1,224.0 C311.8,222.6 313.6,223.2 316.0,222.8 C318.4,222.4 322.4,221.9 323.6,221.7" stroke="#111" stroke-width="1.4"/>
<path d="M185.0,242.4 C186.1,240.1 189.6,231.8 191.9,228.6 C194.2,225.3 197.6,223.8 198.8,222.8" stroke="#111" stroke-width="1.4"/>
<path d="M218.3,221.7 C219.7,223.6 223.9,231.1 226.4,233.2 C228.9,235.3 231.0,233.0 233.3,234.3 C235.6,235.7 237.5,238.5 240.2,241.2 C242.9,243.9 246.7,247.5 249.4,250.4 C252.0,253.3 254.3,256.3 256.3,258.4 C258.3,260.6 260.5,262.3 261.3,263.0" stroke="#111" stroke-width="1.4"/>
<path d="M281.1,191.8 C281.9,193.3 284.5,197.5 286.1,201.0 C287.8,204.4 289.2,209.0 290.7,212.5 C292.3,215.9 293.4,219.0 295.3,221.7 C297.3,224.3 299.9,227.0 302.2,228.6 C304.5,230.1 306.8,231.6 309.1,230.9 C311.4,230.1 313.6,225.9 316.0,224.0 C318.4,222.0 322.4,220.1 323.6,219.4" stroke="#111" stroke-width="1.4"/>
<path d="M281.1,256.1 C281.9,257.7 284.7,262.3 286.1,265.3 C287.6,268.4 288.4,273.4 289.6,274.5 C290.7,275.7 291.3,274.2 293.0,272.2 C294.8,270.3 298.0,266.5 299.9,263.0 C301.9,259.6 303.0,253.1 304.5,251.6 C306.1,250.0 307.2,252.3 309.1,253.9 C311.1,255.4 313.6,259.0 316.0,260.7 C318.4,262.5 322.4,263.6 323.6,264.2" stroke="#111" stroke-width="1.4"/>
<path d="M185.0,259.6 C186.1,260.2 189.6,262.2 191.9,263.0 C194.2,263.9 196.1,263.0 198.8,264.9 C201.5,266.8 204.9,271.8 208.0,274.5 C211.1,277.3 214.1,281.8 217.2,281.4 C220.2,281.1 223.7,276.1 226.4,272.2 C229.1,268.4 231.0,260.4 233.3,258.4 C235.6,256.5 237.5,259.2 240.2,260.7 C242.9,262.3 245.8,267.3 249.4,267.6 C252.9,268.0 259.3,263.8 261.3,263.0" stroke="#111" stroke-width="1.4"/>
<path d="M185.0,283.7 C187.3,283.5 195.0,282.6 198.8,282.6 C202.6,282.6 204.7,283.9 208.0,283.7 C211.2,283.5 214.9,282.6 218.3,281.4 C221.8,280.3 225.4,279.5 228.7,276.8 C231.9,274.2 235.2,267.6 237.9,265.3 C240.6,263.0 242.1,263.0 244.8,263.0 C247.5,263.0 251.2,265.0 254.0,265.3 C256.7,265.7 256.8,265.3 261.3,264.9 C265.8,264.5 275.8,263.7 281.1,263.0 C286.4,262.4 289.1,261.5 293.0,260.7 C297.0,260.0 301.1,259.2 304.5,258.4 C308.0,257.7 310.6,256.5 313.7,256.1 C316.9,255.8 322.0,256.1 323.6,256.1" stroke="#111" stroke-width="1.4"/>
<path d="M198.8,282.6 C202.0,282.6 213.0,280.1 218.3,282.6 C223.7,285.1 226.6,295.0 231.0,297.5 C235.4,300.0 239.7,299.1 244.8,297.5 C249.8,296.0 256.7,289.3 261.3,288.3 C265.9,287.4 269.1,291.0 272.4,291.8 C275.7,292.5 278.0,293.5 281.1,292.9 C284.2,292.4 287.6,289.5 290.7,288.3 C293.9,287.2 297.3,286.0 299.9,286.0 C302.6,286.0 304.5,286.4 306.8,288.3 C309.1,290.2 310.9,294.8 313.7,297.5 C316.5,300.2 322.0,303.3 323.6,304.4" stroke="#111" stroke-width="1.4"/>
<path d="M185.0,292.9 C186.5,294.5 191.9,300.2 194.2,302.1 C196.5,304.0 196.5,304.4 198.8,304.4 C201.1,304.4 204.7,302.9 208.0,302.1 C211.2,301.4 214.5,300.4 218.3,299.8 C222.2,299.3 226.6,298.7 231.0,298.7 C235.4,298.7 242.5,299.6 244.8,299.8" stroke="#111" stroke-width="1.4"/>
<path d="M185.0,306.7 C187.3,306.9 193.2,307.9 198.8,307.9 C204.3,307.9 213.0,306.5 218.3,306.7 C223.7,307.0 228.9,309.0 231.0,309.5" stroke="#111" stroke-width="1.4"/>
<path d="M244.8,309.5 C246.3,309.0 250.9,306.7 254.0,306.7 C257.0,306.7 261.6,309.0 263.2,309.5" stroke="#111" stroke-width="1.4"/>
<path d="M309.1,309.5 C310.3,308.3 313.6,304.1 316.0,302.1 C318.4,300.1 322.4,298.3 323.6,297.5" stroke="#111" stroke-width="1.4"/>
</g>
<path d="M180.0,233.1 C180.9,232.4 183.7,230.3 185.6,228.9 C187.4,227.5 189.0,225.7 191.1,224.8 C193.3,223.8 195.7,223.5 198.5,223.1 C201.3,222.6 204.7,222.3 207.9,222.0 C211.1,221.6 216.0,221.3 217.6,221.1" stroke="#111" stroke-width="1.4"/>
<path d="M180.0,243.6 C180.5,243.7 181.6,245.1 182.8,244.3 C183.9,243.5 185.6,240.8 187.0,238.7 C188.4,236.6 189.8,233.9 191.1,231.7 C192.5,229.5 194.1,226.9 195.3,225.5 C196.6,224.0 198.0,223.5 198.5,223.1" stroke="#111" stroke-width="1.4"/>
<path d="M217.6,221.1 C218.6,221.7 221.3,223.2 223.2,224.8 C225.1,226.3 226.7,228.2 228.8,230.3 C230.9,232.4 233.4,234.7 235.7,237.3 C238.1,239.9 240.4,243.1 242.7,245.7 C245.0,248.2 247.6,250.5 249.7,252.6 C251.8,254.7 253.4,256.6 255.3,258.2 C257.1,259.8 259.9,261.7 260.8,262.4" stroke="#111" stroke-width="1.4"/>
<path d="M217.6,221.1 C218.1,221.1 219.0,220.0 220.4,220.9 C221.8,221.7 223.9,224.3 226.0,226.1 C228.1,228.0 230.9,230.9 233.0,232.0 C235.1,233.1 236.7,232.0 238.5,232.8 C240.4,233.7 242.3,235.2 244.1,237.3 C246.0,239.4 247.8,242.9 249.7,245.7 C251.5,248.4 253.4,251.4 255.3,254.0 C257.1,256.7 259.9,260.4 260.8,261.7" stroke="#111" stroke-width="1.4"/>
<path d="M180.0,258.2 C180.7,258.3 182.8,258.3 184.2,258.9 C185.6,259.5 186.7,261.0 188.4,261.7 C190.0,262.4 192.2,262.6 193.9,263.1 C195.6,263.5 197.1,263.7 198.5,264.5 C199.9,265.3 200.7,266.4 202.3,268.0 C203.9,269.5 206.0,271.7 207.9,273.5 C209.7,275.4 211.8,277.6 213.4,279.1 C215.1,280.6 216.9,282.0 217.6,282.6" stroke="#111" stroke-width="1.4"/>
<path d="M180.0,259.6 C180.9,259.8 183.9,259.1 185.6,261.0 C187.2,262.8 188.4,268.0 189.8,270.7 C191.1,273.5 192.5,275.6 193.9,277.7 C195.4,279.8 196.2,282.2 198.5,283.3 C200.9,284.3 204.7,284.0 207.9,284.0 C211.1,283.9 216.0,283.2 217.6,283.0" stroke="#111" stroke-width="1.4"/>
<path d="M217.6,282.6 C218.3,281.8 220.2,280.2 221.8,277.7 C223.4,275.3 225.8,271.0 227.4,268.0 C229.0,264.9 230.2,261.6 231.6,259.6 C233.0,257.6 234.4,256.3 235.7,256.1 C237.1,255.9 238.3,256.9 239.9,258.2 C241.6,259.5 243.6,262.0 245.5,263.8 C247.4,265.5 249.7,267.6 251.1,268.7 C252.5,269.7 252.7,270.2 253.9,270.1 C255.0,269.9 256.9,268.7 258.0,268.0 C259.2,267.3 259.4,266.7 260.8,265.9 C262.2,265.1 264.5,263.9 266.4,263.1 C268.3,262.3 271.1,261.3 272.0,261.0" stroke="#111" stroke-width="1.4"/>
<path d="M217.6,283.0 C218.6,281.9 221.3,279.1 223.2,276.3 C225.1,273.6 227.2,269.4 228.8,266.6 C230.4,263.7 231.6,260.7 233.0,259.3 C234.4,258.0 235.5,258.0 237.1,258.5 C238.8,259.0 240.9,260.9 242.7,262.4 C244.6,263.8 246.7,265.9 248.3,267.3 C249.9,268.6 251.1,270.2 252.5,270.5 C253.9,270.8 255.3,269.7 256.7,269.1 C258.0,268.5 259.2,267.3 260.8,266.8 C262.5,266.4 264.5,266.4 266.4,266.3 C268.3,266.1 271.1,266.1 272.0,266.0" stroke="#111" stroke-width="1.4"/>
<path d="M177.2,276.3 C177.7,276.9 178.8,278.4 180.0,279.8 C181.2,281.2 182.8,282.5 184.2,284.7 C185.6,286.9 187.0,290.0 188.4,293.0 C189.8,296.1 191.4,301.9 192.5,302.8 C193.7,303.7 194.3,299.8 195.3,298.6 C196.3,297.5 196.4,296.1 198.5,295.8 C200.6,295.6 204.7,296.8 207.9,297.2 C211.1,297.7 214.1,298.4 217.6,298.6 C221.1,298.9 225.3,298.7 228.8,298.6 C232.3,298.5 235.5,298.4 238.5,297.9 C241.6,297.5 244.3,297.0 246.9,295.8 C249.5,294.7 251.5,292.1 253.9,291.0 C256.2,289.8 258.7,289.1 260.8,288.9 C262.9,288.6 264.5,289.2 266.4,289.6 C268.3,289.9 271.1,290.7 272.0,291.0" stroke="#111" stroke-width="1.4"/>
<path d="M177.2,277.7 C178.1,278.9 180.9,282.6 182.8,284.7 C184.6,286.8 186.5,288.6 188.4,290.3 C190.2,291.9 192.2,293.4 193.9,294.4 C195.6,295.5 197.8,296.2 198.5,296.5" stroke="#111" stroke-width="1.4"/>
<path d="M193.9,311.2 C194.7,310.4 196.2,307.4 198.5,306.3 C200.9,305.1 204.7,305.1 207.9,304.2 C211.1,303.3 214.4,301.6 217.6,300.7 C220.9,299.8 223.9,299.2 227.4,298.6 C230.9,298.0 236.7,297.5 238.5,297.2" stroke="#111" stroke-width="1.4"/>
<path d="M217.6,298.6 C218.3,299.3 220.4,301.2 221.8,302.8 C223.2,304.4 224.9,306.8 226.0,308.4 C227.0,310.0 227.7,311.9 228.1,312.6" stroke="#111" stroke-width="1.4"/>
<path d="M178.6,310.5 C180.0,310.1 184.4,308.8 187.0,308.4 C189.5,308.0 192.0,307.7 193.9,308.1 C195.9,308.4 197.8,310.1 198.5,310.5" stroke="#111" stroke-width="1.4"/>
<path d="M244.1,312.6 C244.8,311.7 246.9,308.7 248.3,307.7 C249.7,306.6 251.1,306.4 252.5,306.3 C253.9,306.2 255.3,306.4 256.7,307.3 C258.0,308.1 260.1,310.5 260.8,311.2" stroke="#111" stroke-width="1.4"/>
</g>
<rect x="57.4" y="10.0" width="267.0" height="300.9" fill="none" stroke="#111" stroke-width="1.3"/>
<line x1="51.199999999999996" y1="10.199999999999989" x2="57.4" y2="10.199999999999989" stroke="#111" stroke-width="1.2"/>
<text x="46.9" y="9.399999999999988" font-family="&quot;Liberation Sans&quot;, sans-serif" font-size="11.5" font-weight="bold" fill="#111" stroke="#111" stroke-width="0.3" text-anchor="end" dominant-baseline="central">4</text>
<line x1="51.199999999999996" y1="85.39999999999999" x2="57.4" y2="85.39999999999999" stroke="#111" stroke-width="1.2"/>
<text x="46.9" y="84.6" font-family="&quot;Liberation Sans&quot;, sans-serif" font-size="11.5" font-weight="bold" fill="#111" stroke="#111" stroke-width="0.3" text-anchor="end" dominant-baseline="central">2</text>
<line x1="51.199999999999996" y1="160.6" x2="57.4" y2="160.6" stroke="#111" stroke-width="1.2"/>
<text x="46.9" y="159.79999999999998" font-family="&quot;Liberation Sans&quot;, sans-serif" font-size="11.5" font-weight="bold" fill="#111" stroke="#111" stroke-width="0.3" text-anchor="end" dominant-baseline="central">0</text>
<line x1="51.199999999999996" y1="235.8" x2="57.4" y2="235.8" stroke="#111" stroke-width="1.2"/>
<text x="46.9" y="235.0" font-family="&quot;Liberation Sans&quot;, sans-serif" font-size="11.5" font-weight="bold" fill="#111" stroke="#111" stroke-width="0.3" text-anchor="end" dominant-baseline="central">-2</text>
<line x1="51.199999999999996" y1="311.0" x2="57.4" y2="311.0" stroke="#111" stroke-width="1.2"/>
<text x="46.9" y="310.2" font-family="&quot;Liberation Sans&quot;, sans-serif" font-size="11.5" font-weight="bold" fill="#111" stroke="#111" stroke-width="0.3" text-anchor="end" dominant-baseline="central">-4</text>
<line x1="53.9" y1="47.79999999999998" x2="57.4" y2="47.79999999999998" stroke="#111" stroke-width="1.2"/>
<line x1="53.9" y1="123.0" x2="57.4" y2="123.0" stroke="#111" stroke-width="1.2"/>
<line x1="53.9" y1="198.2" x2="57.4" y2="198.2" stroke="#111" stroke-width="1.2"/>
<line x1="53.9" y1="273.4" x2="57.4" y2="273.4" stroke="#111" stroke-width="1.2"/>
<line x1="164.8" y1="120.728" x2="164.8" y2="154.6" stroke="#1010d8" stroke-width="1.4"/>
<polygon points="164.8,114.728 162.5,121.228 167.10000000000002,121.228" fill="#1010d8"/>
<polygon points="164.8,160.6 162.5,154.1 167.10000000000002,154.1" fill="#1010d8"/>
<text x="168" y="138.2" font-family="&quot;Liberation Sans&quot;, sans-serif" font-size="14" font-weight="bold" fill="#1515c0" stroke="#1515c0" stroke-width="0.3" text-anchor="start" dominant-baseline="central">1.22 eV</text>
<text x="57.4" y="334.8" font-family="&quot;Liberation Sans&quot;, sans-serif" font-size="13.5" font-weight="bold" fill="#111" stroke="#111" stroke-width="0.3" text-anchor="middle" dominant-baseline="central">Z</text>
<text x="118.4" y="334.8" font-family="&quot;Liberation Sans&quot;, sans-serif" font-size="13.5" font-weight="bold" fill="#111" stroke="#111" stroke-width="0.3" text-anchor="middle" dominant-baseline="central">A</text>
<text x="137.6" y="334.8" font-family="&quot;Liberation Sans&quot;, sans-serif" font-size="13.5" font-weight="bold" fill="#111" stroke="#111" stroke-width="0.3" text-anchor="middle" dominant-baseline="central">M</text>
<text x="198.6" y="334.8" font-family="&quot;Liberation Sans&quot;, sans-serif" font-size="13.5" font-weight="bold" fill="#111" stroke="#111" stroke-width="0.3" text-anchor="middle" dominant-baseline="central">G</text>
<text x="218.2" y="334.8" font-family="&quot;Liberation Sans&quot;, sans-serif" font-size="13.5" font-weight="bold" fill="#111" stroke="#111" stroke-width="0.3" text-anchor="middle" dominant-baseline="central">Z</text>
<text x="261.2" y="334.8" font-family="&quot;Liberation Sans&quot;, sans-serif" font-size="13.5" font-weight="bold" fill="#111" stroke="#111" stroke-width="0.3" text-anchor="middle" dominant-baseline="central">R</text>
<text x="281.0" y="334.8" font-family="&quot;Liberation Sans&quot;, sans-serif" font-size="13.5" font-weight="bold" fill="#111" stroke="#111" stroke-width="0.3" text-anchor="middle" dominant-baseline="central">X</text>
<text x="324.4" y="334.8" font-family="&quot;Liberation Sans&quot;, sans-serif" font-size="13.5" font-weight="bold" fill="#111" stroke="#111" stroke-width="0.3" text-anchor="middle" dominant-baseline="central">G</text>
<text x="0" y="0" font-family="&quot;Liberation Sans&quot;, sans-serif" font-size="13.0" font-weight="bold" fill="#111" stroke="#111" stroke-width="0.3" text-anchor="middle" transform="translate(12.9 169.9) rotate(-90) scale(1.155 1)">Energy (eV)</text>
<text x="21.5" y="9.3" font-family="&quot;Liberation Serif&quot;, serif" font-size="19" font-weight="bold" fill="#111" stroke="#111" stroke-width="0.3" text-anchor="middle" dominant-baseline="central">(a)</text>
<line x1="460.4" y1="9.3" x2="460.4" y2="309.4" stroke="#e4f7e4" stroke-width="5.0"/>
<line x1="460.4" y1="9.3" x2="460.4" y2="309.4" stroke="#6cd66c" stroke-width="1.7"/>
<line x1="479.2" y1="9.3" x2="479.2" y2="309.4" stroke="#e4f7e4" stroke-width="5.0"/>
<line x1="479.2" y1="9.3" x2="479.2" y2="309.4" stroke="#6cd66c" stroke-width="1.7"/>
<line x1="540.0" y1="9.3" x2="540.0" y2="309.4" stroke="#e4f7e4" stroke-width="5.0"/>
<line x1="540.0" y1="9.3" x2="540.0" y2="309.4" stroke="#6cd66c" stroke-width="1.7"/>
<line x1="560.6" y1="9.3" x2="560.6" y2="309.4" stroke="#e4f7e4" stroke-width="5.0"/>
<line x1="560.6" y1="9.3" x2="560.6" y2="309.4" stroke="#6cd66c" stroke-width="1.7"/>
<line x1="603.6" y1="9.3" x2="603.6" y2="309.4" stroke="#e4f7e4" stroke-width="5.0"/>
<line x1="603.6" y1="9.3" x2="603.6" y2="309.4" stroke="#6cd66c" stroke-width="1.7"/>
<line x1="622.4" y1="9.3" x2="622.4" y2="309.4" stroke="#e4f7e4" stroke-width="5.0"/>
<line x1="622.4" y1="9.3" x2="622.4" y2="309.4" stroke="#6cd66c" stroke-width="1.7"/>
<line x1="399.59999999999997" y1="86.5806" x2="665.6" y2="86.5806" stroke="#e03a3a" stroke-width="1.5" stroke-dasharray="5.35 5.25"/>
<line x1="399.59999999999997" y1="159.35" x2="665.6" y2="159.35" stroke="#e03a3a" stroke-width="1.5" stroke-dasharray="5.35 5.25"/>
<g clip-path="url(#cb)" fill="none" stroke-linejoin="round" stroke-linecap="round">
<mask id="m_b" maskUnits="userSpaceOnUse" x="0" y="0" width="675" height="696"><rect x="0" y="0" width="675" height="696" fill="#fff"/><rect x="514.5" y="200" width="46.5" height="31" fill="#000"/></mask>
<g mask="url(#m_b)">
<path d="M399.5,38.6 C400.3,38.0 402.5,37.2 404.3,35.3 C406.1,33.4 408.4,29.8 410.5,27.0 C412.6,24.2 414.9,21.1 416.8,18.7 C418.7,16.3 420.6,14.0 422.0,12.4 C423.4,10.8 424.6,9.6 425.1,9.0" stroke="#111" stroke-width="1.4"/>
<path d="M399.5,55.6 C400.5,55.4 403.6,56.1 405.4,54.4 C407.2,52.7 408.6,48.8 410.5,45.6 C412.4,42.4 414.6,38.4 416.8,35.3 C419.1,32.2 421.6,29.1 424.0,27.0 C426.4,24.9 429.4,24.5 431.3,22.8 C433.2,21.1 434.4,18.9 435.4,16.6 C436.4,14.3 437.1,10.3 437.5,9.0" stroke="#111" stroke-width="1.4"/>
<path d="M399.5,58.5 C401.0,58.6 405.6,59.0 408.5,59.1 C411.4,59.2 414.2,60.1 416.8,59.1 C419.4,58.1 421.6,55.5 424.0,52.9 C426.4,50.3 429.1,46.7 431.3,43.6 C433.6,40.5 435.4,37.3 437.5,34.2 C439.6,31.1 441.3,28.0 443.7,24.9 C446.1,21.8 449.4,18.2 452.0,15.6 C454.6,12.9 458.1,10.1 459.3,9.0" stroke="#111" stroke-width="1.4"/>
<path d="M399.5,65.4 C400.5,65.3 403.6,64.2 405.4,64.7 C407.2,65.2 408.4,67.3 410.5,68.5 C412.6,69.7 415.7,71.1 417.8,71.6 C419.9,72.0 420.8,72.4 423.0,71.2 C425.2,70.0 428.5,67.2 431.3,64.3 C434.1,61.4 436.8,58.0 439.6,53.9 C442.4,49.8 445.6,44.2 447.9,39.4 C450.1,34.6 451.7,27.8 453.1,24.9 C454.5,22.0 455.0,22.5 456.2,21.8 C457.4,21.1 458.9,20.4 460.3,20.7 C461.7,21.0 462.8,21.8 464.5,23.9 C466.2,26.0 468.6,30.4 470.7,33.2 C472.8,36.0 475.4,39.1 476.9,40.5 C478.4,41.9 479.3,41.3 479.8,41.5" stroke="#111" stroke-width="1.4"/>
<path d="M455.6,8.4 C456.5,8.7 459.0,10.1 460.7,10.1 C462.4,10.1 465.1,8.7 466.0,8.4" stroke="#111" stroke-width="1.4"/>
<path d="M479.3,41.3 C480.3,40.8 483.2,39.5 485.2,38.3 C487.2,37.1 489.4,34.4 491.1,33.9 C492.8,33.4 494.1,34.3 495.6,35.4 C497.1,36.5 498.5,38.5 500.0,40.6 C501.5,42.7 502.7,45.3 504.4,48.0 C506.1,50.7 508.4,54.2 510.4,56.9 C512.4,59.6 514.3,62.3 516.3,64.3 C518.3,66.3 520.2,67.2 522.2,68.7 C524.2,70.2 526.1,72.4 528.1,73.1 C530.1,73.8 532.0,73.8 534.1,73.1 C536.2,72.4 538.9,69.6 540.7,68.7 C542.5,67.8 544.3,68.0 545.0,67.8" stroke="#111" stroke-width="1.4"/>
<path d="M486.7,39.1 C487.4,40.8 489.6,45.7 491.1,49.4 C492.6,53.1 494.1,57.3 495.6,61.3 C497.1,65.2 498.5,69.4 500.0,73.1 C501.5,76.8 503.2,81.4 504.4,83.5 C505.6,85.6 506.3,85.5 507.4,85.9 C508.5,86.3 509.9,86.8 511.1,85.9 C512.3,85.0 513.4,82.2 514.8,80.6 C516.2,79.0 517.6,77.2 519.3,76.1 C521.0,75.0 523.2,74.3 525.2,73.9 C527.2,73.5 529.4,74.2 531.1,73.9 C532.8,73.7 534.0,73.2 535.6,72.4 C537.2,71.6 539.1,69.6 540.7,68.9 C542.3,68.2 544.3,68.5 545.0,68.4" stroke="#111" stroke-width="1.4"/>
<path d="M480.7,9.0 C481.2,10.3 482.7,14.3 483.7,16.9 C484.7,19.4 485.5,22.1 486.7,24.3 C487.9,26.5 489.6,28.6 491.1,30.2 C492.6,31.8 494.1,32.4 495.6,33.9 C497.1,35.4 498.5,37.0 500.0,39.1 C501.5,41.2 502.7,43.8 504.4,46.5 C506.1,49.2 508.4,52.9 510.4,55.4 C512.4,57.9 514.3,59.6 516.3,61.3 C518.3,63.0 520.0,64.5 522.2,65.7 C524.4,66.9 527.1,68.0 529.6,68.7 C532.1,69.5 535.1,70.2 537.0,70.2 C538.9,70.2 539.4,69.2 540.7,68.7 C542.0,68.2 544.3,67.3 545.0,67.0" stroke="#111" stroke-width="1.4"/>
<path d="M488.9,9.0 C489.3,9.8 490.0,12.6 491.1,13.9 C492.2,15.2 493.4,15.8 495.6,16.9 C497.8,18.0 502.4,18.9 504.4,20.6 C506.4,22.3 506.4,24.9 507.4,27.2 C508.4,29.5 509.4,31.9 510.4,34.6 C511.4,37.3 512.3,40.5 513.3,43.5 C514.3,46.5 515.3,49.9 516.3,52.4 C517.3,54.9 517.8,56.8 519.3,58.3 C520.8,59.8 523.0,60.7 525.2,61.3 C527.4,61.9 530.6,61.8 532.6,62.0 C534.6,62.2 535.6,62.5 537.0,62.8 C538.4,63.0 540.3,63.4 541.0,63.5" stroke="#111" stroke-width="1.4"/>
<path d="M503.0,9.0 C503.5,10.3 504.9,14.1 505.9,16.9 C506.9,19.7 507.9,22.8 508.9,25.7 C509.9,28.6 510.9,31.6 511.9,34.6 C512.9,37.6 513.9,40.5 514.8,43.5 C515.6,46.5 516.2,49.9 517.0,52.4 C517.8,54.9 518.9,57.3 519.3,58.3" stroke="#111" stroke-width="1.4"/>
<path d="M504.4,9.0 C505.1,10.6 507.4,15.3 508.9,18.3 C510.4,21.3 511.8,24.2 513.3,27.2 C514.8,30.2 516.3,33.6 517.8,36.1 C519.3,38.6 520.7,40.0 522.2,42.0 C523.7,44.0 525.0,46.3 526.7,48.0 C528.4,49.7 530.9,51.2 532.6,52.4 C534.3,53.6 535.6,54.8 537.0,55.4 C538.4,56.0 539.4,55.8 540.7,56.1 C542.0,56.4 544.3,56.9 545.0,57.0" stroke="#111" stroke-width="1.4"/>
<path d="M508.9,9.0 C509.6,10.6 511.8,15.3 513.3,18.3 C514.8,21.3 516.3,24.5 517.8,27.2 C519.3,29.9 521.0,33.5 522.2,34.6 C523.4,35.7 524.2,34.1 525.2,33.9 C526.2,33.6 527.1,32.0 528.1,33.1 C529.1,34.2 530.1,38.1 531.1,40.6 C532.1,43.1 533.1,45.8 534.1,48.0 C535.1,50.2 535.9,52.5 537.0,53.9 C538.1,55.2 540.1,55.7 540.7,56.1" stroke="#111" stroke-width="1.4"/>
<path d="M517.8,52.4 C518.8,52.4 521.7,51.9 523.7,52.4 C525.7,52.9 527.9,54.3 529.6,55.4 C531.3,56.5 532.6,57.6 534.1,59.1 C535.6,60.6 537.4,63.2 538.5,64.3 C539.6,65.4 539.6,65.4 540.7,65.7 C541.8,66.0 544.3,66.0 545.0,66.0" stroke="#111" stroke-width="1.4"/>
<path d="M516.3,55.4 C516.8,56.4 518.1,60.1 519.3,61.3 C520.5,62.5 521.7,62.7 523.7,62.8 C525.7,62.9 528.9,62.2 531.1,62.0 C533.3,61.8 535.4,61.5 537.0,61.3 C538.6,61.0 540.3,60.6 541.0,60.5" stroke="#111" stroke-width="1.4"/>
<path d="M522.2,9.0 C522.8,10.3 524.9,14.5 525.9,16.9 C526.9,19.3 527.5,23.5 528.4,23.5 C529.3,23.5 530.1,19.3 531.1,16.9 C532.1,14.5 533.6,10.3 534.1,9.0" stroke="#111" stroke-width="1.4"/>
<path d="M547.1,9.6 C547.5,10.7 548.9,14.0 549.9,16.5 C551.0,19.0 552.2,22.0 553.4,24.5 C554.5,27.0 555.7,29.1 556.8,31.4 C558.0,33.7 559.2,37.8 560.5,38.3 C561.9,38.9 563.4,36.1 564.9,34.9 C566.4,33.6 568.1,32.0 569.5,30.9 C570.8,29.7 571.9,28.6 572.9,28.0 C574.0,27.4 574.9,27.7 575.8,27.4 C576.7,27.1 577.2,27.3 578.1,26.3 C579.0,25.2 580.0,23.1 581.0,21.1 C581.9,19.1 583.1,16.1 583.9,14.2 C584.6,12.3 585.3,10.4 585.6,9.6" stroke="#111" stroke-width="1.4"/>
<path d="M578.7,9.6 C578.3,10.7 577.1,14.2 576.4,16.5 C575.6,18.8 574.8,21.4 574.1,23.4 C573.3,25.4 572.2,27.7 571.8,28.6" stroke="#111" stroke-width="1.4"/>
<path d="M560.5,38.3 C559.9,39.5 558.0,42.9 556.8,45.2 C555.7,47.5 554.5,50.0 553.4,52.1 C552.2,54.2 551.1,56.7 549.9,57.9 C548.8,59.0 548.2,58.8 546.5,59.0 C544.8,59.2 541.7,60.0 539.8,59.0 C537.9,58.1 535.8,54.2 535.0,53.3" stroke="#111" stroke-width="1.4"/>
<path d="M603.4,9.6 C602.7,10.7 600.8,14.2 599.4,16.5 C597.9,18.8 596.3,21.3 594.8,23.4 C593.2,25.5 591.3,27.8 590.2,29.1 C589.0,30.5 588.8,31.1 587.9,31.4 C586.9,31.7 585.6,30.9 584.4,30.9 C583.3,30.9 582.0,31.1 581.0,31.4 C579.9,31.7 578.9,31.8 578.1,32.6 C577.3,33.4 577.0,34.7 576.4,36.0 C575.8,37.4 575.2,39.1 574.7,40.6 C574.1,42.2 573.6,43.7 572.9,45.2 C572.3,46.8 571.6,48.3 570.6,49.8 C569.7,51.4 568.3,53.3 567.2,54.4 C566.0,55.6 564.8,56.1 563.7,56.7 C562.6,57.3 561.1,57.7 560.5,57.9" stroke="#111" stroke-width="1.4"/>
<path d="M575.2,39.5 C575.8,39.8 577.5,40.8 578.7,41.2 C579.8,41.6 581.0,42.3 582.1,41.8 C583.3,41.3 584.4,40.1 585.6,38.3 C586.7,36.6 588.4,32.6 589.0,31.4" stroke="#111" stroke-width="1.4"/>
<path d="M563.7,56.7 C564.7,56.1 567.6,54.6 569.5,53.3 C571.4,51.9 573.3,50.0 575.2,48.7 C577.1,47.3 579.4,45.2 581.0,45.2 C582.5,45.2 583.3,47.5 584.4,48.7 C585.6,49.8 586.5,51.0 587.9,52.1 C589.2,53.3 590.9,54.0 592.5,55.6 C594.0,57.1 595.7,60.1 597.1,61.3 C598.4,62.6 599.5,62.9 600.5,63.0 C601.6,63.2 602.9,62.6 603.4,62.5" stroke="#111" stroke-width="1.4"/>
<path d="M560.5,57.3 C562.0,56.8 566.5,55.2 569.5,54.4 C572.5,53.7 576.0,53.0 578.7,52.7 C581.4,52.4 583.3,52.4 585.6,52.7 C587.9,53.0 590.2,53.4 592.5,54.4 C594.8,55.5 597.5,57.9 599.4,59.0 C601.2,60.2 602.7,60.9 603.4,61.3" stroke="#111" stroke-width="1.4"/>
<path d="M535.0,55.6 C535.8,55.7 537.9,56.0 539.8,56.1 C541.7,56.3 544.2,56.7 546.5,56.7 C548.8,56.7 551.1,56.1 553.4,56.1 C555.7,56.2 559.3,57.1 560.5,57.3" stroke="#111" stroke-width="1.4"/>
<path d="M539.8,67.1 C540.9,66.5 544.2,64.8 546.5,63.6 C548.8,62.5 551.1,61.1 553.4,60.2 C555.7,59.2 559.3,58.3 560.5,57.9" stroke="#111" stroke-width="1.4"/>
<path d="M535.0,64.8 C535.8,65.7 537.9,69.8 539.8,70.5 C541.7,71.3 544.2,69.8 546.5,69.4 C548.8,68.9 551.1,68.3 553.4,67.6 C555.7,67.0 558.6,65.8 560.5,65.3 C562.4,64.9 563.4,64.3 564.9,64.8 C566.4,65.2 568.0,66.7 569.5,68.2 C571.0,69.8 572.5,72.2 574.1,74.0 C575.6,75.7 577.1,77.4 578.7,78.6 C580.2,79.7 581.7,80.4 583.3,80.9 C584.8,81.3 586.3,81.6 587.9,81.4 C589.4,81.2 590.9,80.8 592.5,79.7 C594.0,78.7 595.7,76.6 597.1,75.1 C598.4,73.7 599.5,72.0 600.5,71.1 C601.6,70.2 602.9,70.1 603.4,69.9" stroke="#111" stroke-width="1.4"/>
<path d="M560.5,65.9 C561.2,65.9 563.4,65.3 564.9,65.9 C566.4,66.5 568.0,67.8 569.5,69.4 C571.0,70.9 572.5,73.4 574.1,75.1 C575.6,76.8 577.1,78.5 578.7,79.7 C580.2,80.9 581.7,81.7 583.3,82.2 C584.8,82.8 586.3,83.1 587.9,82.9 C589.4,82.7 590.9,82.2 592.5,81.1 C594.0,80.0 595.7,78.0 597.1,76.5 C598.4,75.0 599.5,73.2 600.5,72.2 C601.6,71.3 602.9,71.0 603.4,70.7" stroke="#111" stroke-width="1.4"/>
<path d="M535.0,74.0 L539.8,70.5" stroke="#111" stroke-width="1.4"/>
<path d="M603.0,9.4 C604.0,10.3 607.0,13.2 609.0,15.0 C611.0,16.8 612.8,18.3 615.0,20.0 C617.2,21.7 620.0,23.5 622.0,25.0 C624.0,26.5 625.5,28.0 627.0,29.0 C628.5,30.0 629.7,31.2 631.0,31.0 C632.3,30.8 633.7,29.0 635.0,28.0 C636.3,27.0 637.5,25.7 639.0,25.0 C640.5,24.3 642.3,23.3 644.0,24.0 C645.7,24.7 647.2,25.5 649.0,29.0 C650.8,32.5 653.0,40.3 655.0,45.0 C657.0,49.7 659.2,54.3 661.0,57.0 C662.8,59.7 665.2,60.3 666.0,61.0" stroke="#111" stroke-width="1.4"/>
<path d="M622.0,25.0 C622.5,26.7 623.8,31.7 625.0,35.0 C626.2,38.3 627.3,42.0 629.0,45.0 C630.7,48.0 632.7,50.8 635.0,53.0 C637.3,55.2 640.0,56.3 643.0,58.0 C646.0,59.7 650.0,61.8 653.0,63.0 C656.0,64.2 658.8,64.3 661.0,65.0 C663.2,65.7 665.2,66.7 666.0,67.0" stroke="#111" stroke-width="1.4"/>
<path d="M603.0,62.0 C604.3,60.5 608.7,55.3 611.0,53.0 C613.3,50.7 615.2,49.3 617.0,48.0 C618.8,46.7 620.0,46.2 622.0,45.0 C624.0,43.8 626.8,42.7 629.0,41.0 C631.2,39.3 633.3,36.5 635.0,35.0 C636.7,33.5 637.5,32.7 639.0,32.0 C640.5,31.3 642.3,30.5 644.0,31.0 C645.7,31.5 647.5,32.7 649.0,35.0 C650.5,37.3 651.3,41.7 653.0,45.0 C654.7,48.3 656.8,52.5 659.0,55.0 C661.2,57.5 664.8,59.2 666.0,60.0" stroke="#111" stroke-width="1.4"/>
<path d="M622.0,45.0 C622.8,46.0 625.2,49.3 627.0,51.0 C628.8,52.7 630.7,54.0 633.0,55.0 C635.3,56.0 638.3,56.5 641.0,57.0 C643.7,57.5 646.3,57.7 649.0,58.0 C651.7,58.3 654.2,59.0 657.0,59.0 C659.8,59.0 664.5,58.2 666.0,58.0" stroke="#111" stroke-width="1.4"/>
<path d="M603.0,70.0 C604.3,70.7 608.7,72.7 611.0,74.0 C613.3,75.3 615.2,77.0 617.0,78.0 C618.8,79.0 620.0,80.2 622.0,80.0 C624.0,79.8 626.8,78.0 629.0,77.0 C631.2,76.0 633.0,74.2 635.0,74.0 C637.0,73.8 639.0,75.0 641.0,76.0 C643.0,77.0 645.0,79.2 647.0,80.0 C649.0,80.8 651.0,81.5 653.0,81.0 C655.0,80.5 656.8,79.0 659.0,77.0 C661.2,75.0 664.8,70.3 666.0,69.0" stroke="#111" stroke-width="1.4"/>
<path d="M622.0,80.0 C623.2,80.2 626.5,81.2 629.0,81.0 C631.5,80.8 634.0,80.0 637.0,79.0 C640.0,78.0 643.7,76.2 647.0,75.0 C650.3,73.8 653.8,73.0 657.0,72.0 C660.2,71.0 664.5,69.5 666.0,69.0" stroke="#111" stroke-width="1.4"/>
<path d="M635.0,9.4 C635.7,10.7 637.7,14.4 639.0,17.0 C640.3,19.6 641.7,22.3 643.0,25.0 C644.3,27.7 645.7,30.0 647.0,33.0 C648.3,36.0 649.7,40.0 651.0,43.0 C652.3,46.0 653.7,48.7 655.0,51.0 C656.3,53.3 657.7,55.0 659.0,57.0 C660.3,59.0 661.8,61.0 663.0,63.0 C664.2,65.0 665.5,68.0 666.0,69.0" stroke="#111" stroke-width="1.4"/>
<path d="M639.0,9.4 C639.8,10.0 642.3,11.7 644.0,13.0 C645.7,14.3 647.3,17.0 649.0,17.0 C650.7,17.0 652.7,14.3 654.0,13.0 C655.3,11.7 656.5,10.0 657.0,9.4" stroke="#111" stroke-width="1.4"/>
<path d="M399.3,189.5 C400.4,189.5 403.5,188.7 406.2,189.5 C408.9,190.2 412.5,192.7 415.4,194.1 C418.3,195.4 420.8,197.9 423.4,197.5 C426.1,197.1 428.6,193.1 431.5,191.8 C434.4,190.4 438.4,189.3 440.7,189.5 C443.0,189.7 443.4,190.2 445.3,192.9 C447.2,195.6 449.6,201.0 452.2,205.6 C454.7,210.2 458.4,219.9 460.7,220.5 C463.0,221.1 463.9,214.2 466.0,209.0 C468.0,203.9 470.6,194.3 472.9,189.5 C475.1,184.7 477.0,181.8 479.3,180.3 C481.6,178.8 484.3,179.9 486.7,180.3 C489.0,180.7 490.9,182.0 493.6,182.6 C496.2,183.2 500.1,184.9 502.7,183.7 C505.4,182.6 507.3,178.0 509.6,175.7 C511.9,173.4 514.2,171.1 516.5,169.9 C518.8,168.8 521.1,168.4 523.4,168.8 C525.7,169.2 528.1,170.7 530.3,172.2 C532.6,173.8 535.9,177.0 537.0,178.0" stroke="#111" stroke-width="1.4"/>
<path d="M399.3,222.8 C400.8,222.4 405.4,221.3 408.5,220.5 C411.6,219.8 414.2,219.0 417.7,218.2 C421.1,217.5 425.4,216.1 429.2,215.9 C433.0,215.7 436.8,216.5 440.7,217.1 C444.5,217.6 448.8,218.7 452.2,219.4 C455.5,220.0 458.4,220.2 460.7,221.0 C463.0,221.7 463.9,223.1 466.0,224.0 C468.0,224.8 470.6,225.7 472.9,226.3 C475.1,226.8 477.6,227.1 479.3,227.4 C481.0,227.7 482.6,228.0 483.2,228.1" stroke="#111" stroke-width="1.4"/>
<path d="M399.3,226.3 C400.1,227.0 401.8,228.8 403.9,230.9 C406.0,233.0 409.3,238.3 411.9,238.9 C414.6,239.5 416.7,236.0 420.0,234.3 C423.2,232.6 427.7,230.1 431.5,228.6 C435.3,227.0 439.5,226.1 443.0,225.1 C446.4,224.2 449.2,223.5 452.2,222.8 C455.1,222.1 459.3,221.3 460.7,221.0" stroke="#111" stroke-width="1.4"/>
<path d="M460.7,221.0 C461.6,219.4 463.9,214.7 466.0,211.3 C468.0,208.0 470.6,203.3 472.9,201.0 C475.1,198.7 477.6,198.0 479.3,197.5 C481.0,197.1 482.6,198.1 483.2,198.2" stroke="#111" stroke-width="1.4"/>
<path d="M399.3,292.9 C400.4,291.4 403.9,286.6 406.2,283.7 C408.5,280.9 410.8,277.2 413.1,275.7 C415.4,274.2 417.3,275.9 420.0,274.5 C422.7,273.2 426.1,270.7 429.2,267.6 C432.2,264.6 435.3,259.8 438.4,256.1 C441.4,252.5 444.5,248.9 447.6,245.8 C450.6,242.7 454.6,239.9 456.8,237.8 C459.0,235.7 459.1,234.3 460.7,233.2 C462.2,232.0 463.9,231.1 466.0,230.9 C468.0,230.6 470.6,231.4 472.9,231.6 C475.1,231.7 477.6,231.7 479.3,232.0 C481.0,232.3 482.6,233.0 483.2,233.2" stroke="#111" stroke-width="1.4"/>
<path d="M460.7,233.2 C461.6,234.7 463.9,238.9 466.0,242.4 C468.0,245.8 470.6,250.6 472.9,253.9 C475.1,257.1 477.6,260.7 479.3,261.9 C481.0,263.1 482.6,261.3 483.2,261.2" stroke="#111" stroke-width="1.4"/>
<path d="M399.3,302.1 C400.4,301.4 403.1,299.4 406.2,297.5 C409.3,295.6 414.6,290.8 417.7,290.6 C420.8,290.4 422.7,295.0 424.6,296.4 C426.5,297.7 427.3,299.6 429.2,298.7 C431.1,297.7 433.8,294.7 436.1,290.6 C438.4,286.6 440.7,280.3 443.0,274.5 C445.3,268.8 447.6,261.5 449.9,256.1 C452.2,250.8 455.0,245.8 456.8,242.4 C458.6,238.9 460.0,236.6 460.7,235.5" stroke="#111" stroke-width="1.4"/>
<path d="M438.4,309.0 C439.1,306.3 441.4,298.7 443.0,292.9 C444.5,287.2 445.9,281.1 447.6,274.5 C449.3,268.0 451.6,259.6 453.3,253.9 C455.0,248.1 456.7,243.1 457.9,240.1 C459.1,237.0 460.2,236.2 460.7,235.5" stroke="#111" stroke-width="1.4"/>
<path d="M475.0,227.4 C475.8,227.4 477.9,227.1 479.5,227.4 C481.1,227.6 482.7,229.8 484.7,229.0 C486.6,228.2 489.5,222.0 491.1,222.5 C492.7,223.1 493.2,229.6 494.3,232.2 C495.4,234.7 495.9,236.3 497.5,237.8 C499.1,239.3 501.8,240.9 504.0,241.0 C506.1,241.2 508.3,238.6 510.4,238.6 C512.5,238.6 514.7,240.5 516.8,241.0 C519.0,241.6 521.1,242.9 523.3,241.8 C525.4,240.8 527.6,236.6 529.7,234.6 C531.9,232.6 534.4,230.7 536.1,229.8 C537.9,228.8 538.7,229.2 540.2,229.0 C541.6,228.7 544.2,228.3 545.0,228.2" stroke="#111" stroke-width="1.4"/>
<path d="M475.0,232.2 C475.8,232.2 477.9,232.0 479.5,232.2 C481.1,232.3 482.7,232.7 484.7,233.0 C486.6,233.3 488.9,233.0 491.1,233.8 C493.2,234.6 495.4,236.2 497.5,237.8 C499.7,239.4 501.8,243.0 504.0,243.4 C506.1,243.9 508.3,240.2 510.4,240.2 C512.5,240.2 514.7,242.0 516.8,243.4 C519.0,244.9 521.1,249.1 523.3,249.1 C525.4,249.1 527.6,245.7 529.7,243.4 C531.9,241.2 534.4,237.7 536.1,235.4 C537.9,233.1 539.5,230.7 540.2,229.8" stroke="#111" stroke-width="1.4"/>
<path d="M540.2,306.2 L545.0,304.6" stroke="#111" stroke-width="1.4"/>
<path d="M603.1,183.7 C604.3,182.2 608.1,177.2 610.5,174.5 C612.8,171.9 615.3,169.4 617.4,167.6 C619.4,165.8 620.7,165.0 622.6,163.7 C624.6,162.5 626.7,160.8 628.9,160.1 C631.0,159.3 633.1,158.8 635.7,159.1 C638.4,159.4 641.9,160.3 644.9,161.9 C648.0,163.5 651.5,166.5 654.1,168.8 C656.8,171.1 659.0,173.8 661.0,175.7 C663.0,177.6 665.2,179.5 666.1,180.3" stroke="#111" stroke-width="1.4"/>
<path d="M535.7,178.7 C536.4,179.1 537.8,180.6 539.9,181.4 C542.0,182.3 545.1,182.2 548.4,183.7 C551.7,185.3 556.4,189.5 559.9,190.6 C563.3,191.8 565.6,190.8 569.1,190.6 C572.5,190.4 577.1,190.4 580.6,189.5 C584.0,188.5 587.1,186.0 589.8,184.9 C592.5,183.7 594.4,182.9 596.7,182.6 C598.9,182.3 600.8,182.1 603.1,183.0 C605.4,184.0 608.1,186.7 610.5,188.3 C612.8,190.0 615.3,191.9 617.4,192.9 C619.4,194.0 621.1,194.3 622.6,194.5 C624.2,194.7 625.1,193.2 626.6,194.1 C628.0,195.0 629.2,197.3 631.1,199.8 C633.1,202.3 635.7,206.3 638.0,209.0 C640.3,211.7 642.3,214.6 644.9,215.9 C647.6,217.3 651.5,217.5 654.1,217.1 C656.8,216.7 659.0,214.4 661.0,213.6 C663.0,212.9 665.2,212.7 666.1,212.5" stroke="#111" stroke-width="1.4"/>
<path d="M530.0,213.6 C531.6,213.2 536.8,212.9 539.9,211.3 C543.0,209.8 545.1,207.9 548.4,204.4 C551.7,201.0 558.0,192.9 559.9,190.6" stroke="#111" stroke-width="1.4"/>
<path d="M530.0,219.4 C530.8,219.2 533.0,218.5 534.6,218.2 C536.2,217.9 537.6,217.3 539.9,217.5 C542.2,217.7 545.1,218.6 548.4,219.4 C551.7,220.1 556.4,221.4 559.9,222.1 C563.3,222.9 566.8,223.9 569.1,224.0 C571.4,224.1 571.8,224.7 573.7,222.8 C575.6,220.9 578.3,216.3 580.6,212.5 C582.9,208.6 585.2,204.0 587.5,199.8 C589.8,195.6 591.8,190.0 594.4,187.2 C597.0,184.4 601.6,183.7 603.1,183.0" stroke="#111" stroke-width="1.4"/>
<path d="M532.3,221.7 C533.6,221.5 536.4,220.5 539.9,220.5 C543.3,220.5 549.7,221.3 553.0,221.7 C556.3,222.0 557.2,222.2 559.9,222.8 C562.6,223.4 566.6,225.0 569.1,225.1 C571.6,225.2 572.7,225.6 574.8,223.5 C576.9,221.4 579.4,216.6 581.7,212.5 C584.0,208.3 586.3,203.1 588.6,198.7 C590.9,194.3 593.1,188.8 595.5,186.0 C597.9,183.3 601.8,182.8 603.1,182.1" stroke="#111" stroke-width="1.4"/>
<path d="M530.0,230.9 C530.8,230.5 533.0,228.9 534.6,228.6 C536.2,228.2 537.6,228.7 539.9,228.6 C542.2,228.4 545.1,228.0 548.4,227.6 C551.7,227.3 556.4,225.7 559.9,226.3 C563.3,226.8 566.4,228.6 569.1,230.9 C571.8,233.2 573.3,236.6 576.0,240.1 C578.7,243.5 582.1,248.1 585.2,251.6 C588.2,255.0 591.4,257.7 594.4,260.7 C597.4,263.8 600.0,269.0 603.1,269.9 C606.2,270.9 609.5,267.6 612.8,266.5 C616.0,265.3 619.6,265.2 622.6,263.0 C625.7,260.9 628.2,257.3 631.1,253.9 C634.1,250.4 637.3,245.4 640.3,242.4 C643.4,239.3 646.5,237.4 649.5,235.5 C652.6,233.5 656.0,232.0 658.7,230.9 C661.5,229.7 664.9,228.9 666.1,228.6" stroke="#111" stroke-width="1.4"/>
<path d="M559.9,226.3 C561.2,227.6 565.1,231.6 567.9,234.3 C570.8,237.0 574.1,239.1 577.1,242.4 C580.2,245.6 583.3,250.4 586.3,253.9 C589.4,257.3 592.7,260.2 595.5,263.0 C598.3,265.9 601.8,269.8 603.1,271.1" stroke="#111" stroke-width="1.4"/>
<path d="M622.6,194.5 C623.7,196.8 626.7,203.4 628.9,207.9 C631.0,212.4 633.4,217.5 635.7,221.7 C638.0,225.9 640.3,230.9 642.6,233.2 C644.9,235.5 646.9,236.6 649.5,235.5 C652.2,234.3 656.0,228.9 658.7,226.3 C661.5,223.6 664.9,220.5 666.1,219.4" stroke="#111" stroke-width="1.4"/>
<path d="M530.0,269.9 C531.1,270.5 535.2,272.6 536.9,273.4 C538.5,274.2 538.0,272.8 539.9,274.5 C541.8,276.3 545.4,280.7 548.4,283.7 C551.3,286.8 555.7,291.2 557.6,292.9 C559.5,294.7 558.4,295.6 559.9,294.1 C561.4,292.5 564.5,288.1 566.8,283.7 C569.1,279.3 571.8,270.9 573.7,267.6 C575.6,264.4 576.4,263.8 578.3,264.2 C580.2,264.6 582.5,267.3 585.2,269.9 C587.9,272.6 591.4,279.9 594.4,280.3 C597.4,280.7 600.0,273.6 603.1,272.2 C606.2,270.9 609.5,272.4 612.8,272.2 C616.0,272.0 619.6,271.7 622.6,271.1 C625.7,270.5 628.2,269.8 631.1,268.8 C634.1,267.8 637.3,266.3 640.3,265.3 C643.4,264.4 645.2,262.7 649.5,263.0 C653.8,263.4 663.3,266.9 666.1,267.6" stroke="#111" stroke-width="1.4"/>
<path d="M622.6,271.1 C623.3,272.4 625.1,276.6 626.6,279.1 C628.0,281.6 629.2,286.4 631.1,286.0 C633.1,285.7 635.7,280.7 638.0,276.8 C640.3,273.0 643.0,267.6 644.9,263.0 C646.9,258.4 648.0,252.7 649.5,249.3 C651.1,245.8 652.2,245.0 654.1,242.4 C656.1,239.7 659.0,235.3 661.0,233.2 C663.0,231.1 665.2,230.3 666.1,229.7" stroke="#111" stroke-width="1.4"/>
<path d="M622.6,263.0 C624.1,261.9 628.2,258.1 631.1,256.1 C634.1,254.2 637.3,251.9 640.3,251.6 C643.4,251.2 646.5,251.9 649.5,253.9 C652.6,255.8 656.0,259.6 658.7,263.0 C661.5,266.5 664.9,272.6 666.1,274.5" stroke="#111" stroke-width="1.4"/>
<path d="M587.5,308.6 C590.1,307.2 598.9,301.4 603.1,300.3 C607.3,299.2 609.5,301.4 612.8,302.1 C616.0,302.8 619.2,305.0 622.6,304.4 C626.1,303.9 630.5,299.8 633.4,298.7 C636.4,297.5 638.0,298.2 640.3,297.5 C642.6,296.9 644.9,294.4 647.2,294.8 C649.5,295.2 651.8,297.8 654.1,299.8 C656.4,301.8 659.0,305.3 661.0,306.7 C663.0,308.2 665.2,308.3 666.1,308.6" stroke="#111" stroke-width="1.4"/>
<path d="M530.0,304.4 C531.6,304.8 536.1,306.1 539.9,306.7 C543.7,307.3 548.9,307.6 553.0,307.9 C557.1,308.2 562.6,308.4 564.5,308.6" stroke="#111" stroke-width="1.4"/>
<path d="M479.4,180.0 C480.3,180.1 482.8,179.9 484.4,180.6 C486.1,181.2 488.0,182.6 489.4,183.9 C490.9,185.2 492.0,186.7 493.3,188.3 C494.6,190.0 495.6,193.2 497.2,193.9 C498.9,194.5 501.4,191.3 503.3,192.2 C505.3,193.1 506.9,196.8 508.9,199.4 C510.9,202.1 513.5,205.7 515.6,208.3 C517.6,210.9 519.3,212.9 521.1,215.0 C523.0,217.1 524.8,219.8 526.7,221.1 C528.5,222.4 530.7,222.7 532.2,222.8 C533.7,222.9 534.3,222.4 535.6,221.7 C536.9,220.9 538.4,219.1 540.0,218.3 C541.6,217.6 544.2,217.4 545.0,217.2" stroke="#111" stroke-width="1.4"/>
<path d="M479.4,197.2 C480.3,197.5 482.3,198.1 484.4,198.9 C486.6,199.6 489.8,200.8 492.2,201.7 C494.6,202.5 496.9,203.0 498.9,203.9 C500.9,204.8 502.6,205.7 504.4,207.2 C506.3,208.7 508.3,211.4 510.0,212.8 C511.7,214.2 512.8,214.9 514.4,215.6 C516.1,216.2 518.1,216.8 520.0,216.7 C521.9,216.6 523.5,215.6 525.6,215.0 C527.6,214.4 529.8,213.3 532.2,212.8 C534.6,212.2 537.9,212.1 540.0,211.7 C542.1,211.2 544.2,210.3 545.0,210.0" stroke="#111" stroke-width="1.4"/>
<path d="M479.4,197.2 C480.1,197.8 482.1,199.1 483.3,200.6 C484.5,202.0 485.4,203.3 486.7,206.1 C488.0,208.9 489.3,217.1 491.1,217.2 C493.0,217.3 495.7,207.6 497.8,206.7 C499.8,205.7 501.5,209.5 503.3,211.7 C505.2,213.8 506.7,216.6 508.9,219.4 C511.1,222.3 514.3,227.8 516.7,228.9 C519.1,230.0 521.3,227.2 523.3,226.1 C525.4,225.0 527.0,223.3 528.9,222.2 C530.7,221.1 532.6,220.1 534.4,219.4 C536.3,218.8 539.1,218.5 540.0,218.3" stroke="#111" stroke-width="1.4"/>
<path d="M479.5,227.4 C479.9,227.9 481.2,229.2 482.0,230.5 C482.8,231.8 483.6,233.7 484.3,235.5 C485.0,237.3 484.9,238.9 486.1,241.6 C487.3,244.3 489.8,249.9 491.6,251.6 C493.4,253.3 495.5,251.2 497.1,251.6 C498.8,252.0 500.2,252.3 501.5,253.8 C502.8,255.3 503.8,257.4 504.9,260.4 C506.0,263.3 507.1,268.0 508.2,271.5 C509.3,275.0 510.0,279.1 511.5,281.5 C513.0,283.9 515.3,284.9 517.0,285.9 C518.7,286.9 520.0,286.2 521.5,287.5 C523.0,288.8 524.2,291.3 525.9,293.6 C527.5,295.9 529.5,299.4 531.4,301.4 C533.2,303.4 535.5,304.9 537.0,305.8 C538.5,306.7 539.0,306.9 540.3,306.9 C541.6,306.9 544.2,306.0 545.0,305.8" stroke="#111" stroke-width="1.4"/>
<path d="M479.4,262.4 C480.4,259.3 483.8,246.2 485.5,243.8 C487.2,241.5 488.4,247.0 489.4,248.3 C490.4,249.6 491.2,251.1 491.6,251.6" stroke="#111" stroke-width="1.4"/>
<path d="M479.5,232.2 C480.4,232.7 483.2,234.2 484.7,235.0 C486.2,235.8 486.6,235.9 488.3,237.0 C490.0,238.1 492.7,239.5 494.9,241.6 C497.1,243.7 499.5,246.8 501.5,249.4 C503.5,252.0 505.2,254.5 507.1,257.1 C509.0,259.7 511.0,262.9 512.6,264.9 C514.2,266.9 515.0,268.9 516.5,269.3 C518.0,269.7 519.9,267.3 521.5,267.1 C523.1,266.9 524.4,267.6 525.9,268.2 C527.4,268.8 528.4,269.6 530.3,270.4 C532.1,271.2 534.5,272.2 537.0,273.2 C539.5,274.2 543.7,275.9 545.0,276.5" stroke="#111" stroke-width="1.4"/>
<path d="M530.3,270.4 C530.7,271.1 531.6,272.8 532.5,274.8 C533.4,276.8 534.7,279.8 535.8,282.6 C536.9,285.4 538.3,289.6 539.2,291.4 C540.1,293.2 539.5,293.2 541.0,293.6 C542.5,294.1 545.2,294.0 548.4,294.1 C551.5,294.2 558.0,294.1 559.9,294.1" stroke="#111" stroke-width="1.4"/>
<path d="M475.0,259.9 C475.7,260.1 477.5,260.9 479.4,261.0 C481.2,261.1 484.1,260.3 486.1,260.2 C488.1,260.1 490.4,259.1 491.6,260.4 C492.8,261.7 492.7,265.1 493.3,268.2 C493.9,271.3 494.8,275.5 495.5,279.2 C496.2,282.9 497.0,286.6 497.7,290.3 C498.4,294.0 499.3,298.2 499.9,301.4 C500.5,304.6 501.2,308.1 501.5,309.4" stroke="#111" stroke-width="1.4"/>
<path d="M479.4,263.2 C480.3,263.3 483.1,262.8 485.0,263.8 C486.9,264.8 489.0,266.7 490.5,269.3 C492.0,271.9 492.7,275.7 493.8,279.2 C494.9,282.7 496.1,286.6 497.1,290.3 C498.1,294.0 499.1,298.2 499.9,301.4 C500.7,304.6 501.7,308.1 502.1,309.4" stroke="#111" stroke-width="1.4"/>
<path d="M479.4,263.2 C480.1,264.9 482.3,270.3 483.8,273.7 C485.3,277.1 486.8,280.8 488.3,283.7 C489.8,286.6 491.2,289.0 492.7,291.4 C494.2,293.8 495.8,295.7 497.1,298.1 C498.4,300.5 499.6,303.9 500.4,305.8 C501.2,307.7 501.8,308.8 502.1,309.4" stroke="#111" stroke-width="1.4"/>
<path d="M503.2,305.5 C504.0,304.3 506.6,300.3 508.2,298.1 C509.8,295.9 511.1,294.0 512.6,292.5 C514.1,291.0 515.3,289.6 517.0,289.2 C518.7,288.8 520.9,288.6 522.6,290.3 C524.3,292.0 525.6,296.0 527.0,299.2 C528.4,302.4 530.2,307.7 530.9,309.4" stroke="#111" stroke-width="1.4"/>
</g>
<path d="M514.4,215.6 C515.0,215.6 516.7,215.7 518.0,215.7 C519.3,215.7 520.4,215.8 522.4,215.4 C524.4,215.0 527.6,214.0 529.8,213.5 C532.0,213.0 534.0,212.7 535.7,212.4 C537.4,212.2 539.0,212.2 540.2,212.0 C541.4,211.8 542.0,211.6 543.1,210.9 C544.2,210.2 545.5,209.1 546.9,207.6 C548.3,206.1 549.8,203.8 551.3,201.7 C552.8,199.6 554.6,196.8 555.7,195.0 C556.8,193.2 557.6,191.7 558.0,191.0" stroke="#111" stroke-width="1.4"/>
<path d="M513.0,205.5 C513.4,206.0 514.6,207.2 515.6,208.3 C516.6,209.4 517.9,210.7 519.0,212.0 C520.1,213.3 520.9,214.5 522.4,216.1 C523.9,217.7 526.4,221.0 528.0,221.7 C529.6,222.4 530.6,220.7 532.0,220.2 C533.4,219.7 535.3,219.0 536.5,218.7 C537.7,218.4 538.0,218.2 539.4,218.3 C540.8,218.4 542.5,218.9 544.6,219.4 C546.7,219.9 549.5,220.7 552.0,221.3 C554.5,221.9 557.2,222.4 559.4,222.8 C561.6,223.2 564.1,223.7 565.0,223.9" stroke="#111" stroke-width="1.4"/>
<path d="M512.0,226.0 C512.5,226.3 514.1,227.1 515.0,227.6 C515.9,228.1 516.0,229.3 517.2,229.1 C518.4,228.8 520.6,227.3 522.4,226.1 C524.2,224.9 526.0,222.5 528.0,222.0 C530.0,221.5 532.7,223.7 534.6,223.1 C536.5,222.5 538.6,219.4 539.4,218.7" stroke="#111" stroke-width="1.4"/>
<path d="M534.3,227.6 C535.3,227.8 537.9,228.7 540.2,228.7 C542.5,228.7 545.9,227.9 548.3,227.6 C550.6,227.3 552.3,227.2 554.3,226.9 C556.3,226.7 558.4,225.9 560.2,226.1 C562.0,226.3 564.2,227.9 565.0,228.3" stroke="#111" stroke-width="1.4"/>
</g>
<rect x="399.2" y="9.3" width="266.40000000000003" height="300.09999999999997" fill="none" stroke="#111" stroke-width="1.3"/>
<line x1="393.0" y1="9.310000000000002" x2="399.2" y2="9.310000000000002" stroke="#111" stroke-width="1.2"/>
<text x="388.7" y="8.510000000000002" font-family="&quot;Liberation Sans&quot;, sans-serif" font-size="11.5" font-weight="bold" fill="#111" stroke="#111" stroke-width="0.3" text-anchor="end" dominant-baseline="central">4</text>
<line x1="393.0" y1="84.33" x2="399.2" y2="84.33" stroke="#111" stroke-width="1.2"/>
<text x="388.7" y="83.53" font-family="&quot;Liberation Sans&quot;, sans-serif" font-size="11.5" font-weight="bold" fill="#111" stroke="#111" stroke-width="0.3" text-anchor="end" dominant-baseline="central">2</text>
<line x1="393.0" y1="159.35" x2="399.2" y2="159.35" stroke="#111" stroke-width="1.2"/>
<text x="388.7" y="158.54999999999998" font-family="&quot;Liberation Sans&quot;, sans-serif" font-size="11.5" font-weight="bold" fill="#111" stroke="#111" stroke-width="0.3" text-anchor="end" dominant-baseline="central">0</text>
<line x1="393.0" y1="234.37" x2="399.2" y2="234.37" stroke="#111" stroke-width="1.2"/>
<text x="388.7" y="233.57" font-family="&quot;Liberation Sans&quot;, sans-serif" font-size="11.5" font-weight="bold" fill="#111" stroke="#111" stroke-width="0.3" text-anchor="end" dominant-baseline="central">-2</text>
<line x1="393.0" y1="309.39" x2="399.2" y2="309.39" stroke="#111" stroke-width="1.2"/>
<text x="388.7" y="308.59" font-family="&quot;Liberation Sans&quot;, sans-serif" font-size="11.5" font-weight="bold" fill="#111" stroke="#111" stroke-width="0.3" text-anchor="end" dominant-baseline="central">-4</text>
<line x1="395.7" y1="46.81999999999999" x2="399.2" y2="46.81999999999999" stroke="#111" stroke-width="1.2"/>
<line x1="395.7" y1="121.84" x2="399.2" y2="121.84" stroke="#111" stroke-width="1.2"/>
<line x1="395.7" y1="196.85999999999999" x2="399.2" y2="196.85999999999999" stroke="#111" stroke-width="1.2"/>
<line x1="395.7" y1="271.88" x2="399.2" y2="271.88" stroke="#111" stroke-width="1.2"/>
<line x1="507.2" y1="92.5806" x2="507.2" y2="153.35" stroke="#1010d8" stroke-width="1.4"/>
<polygon points="507.2,86.5806 504.9,93.0806 509.5,93.0806" fill="#1010d8"/>
<polygon points="507.2,159.35 504.9,152.85 509.5,152.85" fill="#1010d8"/>
<text x="508.8" y="123.4" font-family="&quot;Liberation Sans&quot;, sans-serif" font-size="14" font-weight="bold" fill="#1515c0" stroke="#1515c0" stroke-width="0.3" text-anchor="start" dominant-baseline="central">1.94 eV</text>
<text x="399.2" y="331.6" font-family="&quot;Liberation Sans&quot;, sans-serif" font-size="13.5" font-weight="bold" fill="#111" stroke="#111" stroke-width="0.3" text-anchor="middle" dominant-baseline="central">Z</text>
<text x="459.5" y="331.6" font-family="&quot;Liberation Sans&quot;, sans-serif" font-size="13.5" font-weight="bold" fill="#111" stroke="#111" stroke-width="0.3" text-anchor="middle" dominant-baseline="central">A</text>
<text x="479.3" y="331.6" font-family="&quot;Liberation Sans&quot;, sans-serif" font-size="13.5" font-weight="bold" fill="#111" stroke="#111" stroke-width="0.3" text-anchor="middle" dominant-baseline="central">M</text>
<text x="540.0" y="331.6" font-family="&quot;Liberation Sans&quot;, sans-serif" font-size="13.5" font-weight="bold" fill="#111" stroke="#111" stroke-width="0.3" text-anchor="middle" dominant-baseline="central">G</text>
<text x="560.6" y="331.6" font-family="&quot;Liberation Sans&quot;, sans-serif" font-size="13.5" font-weight="bold" fill="#111" stroke="#111" stroke-width="0.3" text-anchor="middle" dominant-baseline="central">Z</text>
<text x="603.6" y="331.6" font-family="&quot;Liberation Sans&quot;, sans-serif" font-size="13.5" font-weight="bold" fill="#111" stroke="#111" stroke-width="0.3" text-anchor="middle" dominant-baseline="central">R</text>
<text x="622.4" y="331.6" font-family="&quot;Liberation Sans&quot;, sans-serif" font-size="13.5" font-weight="bold" fill="#111" stroke="#111" stroke-width="0.3" text-anchor="middle" dominant-baseline="central">X</text>
<text x="665.6" y="331.6" font-family="&quot;Liberation Sans&quot;, sans-serif" font-size="13.5" font-weight="bold" fill="#111" stroke="#111" stroke-width="0.3" text-anchor="middle" dominant-baseline="central">G</text>
<text x="0" y="0" font-family="&quot;Liberation Sans&quot;, sans-serif" font-size="13.0" font-weight="bold" fill="#111" stroke="#111" stroke-width="0.3" text-anchor="middle" transform="translate(354.7 169.1) rotate(-90) scale(1.155 1)">Energy (eV)</text>
<text x="366" y="9.2" font-family="&quot;Liberation Serif&quot;, serif" font-size="19" font-weight="bold" fill="#111" stroke="#111" stroke-width="0.3" text-anchor="middle" dominant-baseline="central">(b)</text>
<line x1="104.4" y1="386.3" x2="104.4" y2="651.4" stroke="#e4f7e4" stroke-width="5.0"/>
<line x1="104.4" y1="386.3" x2="104.4" y2="651.4" stroke="#6cd66c" stroke-width="1.7"/>
<line x1="149.4" y1="386.3" x2="149.4" y2="651.4" stroke="#e4f7e4" stroke-width="5.0"/>
<line x1="149.4" y1="386.3" x2="149.4" y2="651.4" stroke="#6cd66c" stroke-width="1.7"/>
<line x1="57.0" y1="518.35" x2="214.7" y2="518.35" stroke="#cc3a3e" stroke-width="1.5" stroke-dasharray="4.7 4.8" stroke-dashoffset="0.2"/>
<line x1="71" y1="457.2" x2="114" y2="457.2" stroke="#e020e0" stroke-width="1.5" stroke-dasharray="5 4.6"/>
<line x1="166" y1="457.9" x2="214" y2="457.9" stroke="#3a46d0" stroke-width="1.5" stroke-dasharray="5 4.6"/>
<g clip-path="url(#cc)" fill="none" stroke-linejoin="round" stroke-linecap="round">
<path d="M56.8,420.7 C57.7,420.4 60.2,419.9 62.1,419.1 C64.0,418.4 66.1,417.5 68.0,416.2 C70.0,414.9 72.2,413.4 74.0,411.4 C75.7,409.5 77.1,407.1 78.7,404.3 C80.3,401.6 82.1,398.0 83.4,394.9 C84.8,391.7 86.4,387.0 87.0,385.4" stroke="#111" stroke-width="1.4"/>
<path d="M97.1,386.2 C97.5,387.2 98.6,390.7 99.4,392.5 C100.2,394.3 101.0,396.1 101.8,397.2 C102.6,398.3 102.8,399.2 104.0,399.4 C105.2,399.5 106.9,398.5 108.9,398.1 C110.9,397.7 113.9,396.8 116.0,396.8 C118.1,396.8 119.8,397.7 121.3,398.1 C122.8,398.5 123.6,399.7 124.9,399.0 C126.2,398.3 128.0,395.5 129.3,393.7 C130.6,391.9 132.0,389.6 132.9,388.3 C133.8,387.1 134.4,386.6 134.7,386.2" stroke="#111" stroke-width="1.4"/>
<path d="M56.8,442.9 C57.5,442.2 59.4,440.6 60.9,438.7 C62.4,436.8 64.1,434.0 65.7,431.6 C67.3,429.2 68.7,426.3 70.4,424.5 C72.1,422.7 74.1,421.1 75.7,420.7 C77.3,420.3 78.4,421.2 79.9,422.1 C81.4,423.0 82.9,425.1 84.6,426.3 C86.3,427.5 88.4,429.3 90.0,429.2 C91.6,429.1 92.6,427.5 94.1,425.7 C95.6,423.9 97.2,421.1 98.9,418.6 C100.6,416.1 102.4,412.2 104.4,410.6 C106.4,409.0 108.5,409.7 110.7,408.8 C112.9,407.9 115.6,406.5 117.8,405.2 C120.0,403.9 122.4,401.6 124.0,401.2 C125.6,400.8 126.3,401.9 127.6,402.6 C128.9,403.3 130.7,405.2 132.0,405.2 C133.3,405.2 134.3,404.2 135.6,402.6 C136.9,401.0 138.7,397.8 140.0,395.4 C141.3,393.0 142.8,389.8 143.6,388.3 C144.4,386.8 144.7,386.6 144.9,386.2" stroke="#111" stroke-width="1.4"/>
<path d="M56.8,442.9 C57.7,443.2 60.2,443.9 62.1,444.6 C64.0,445.3 66.0,446.2 68.0,447.0 C70.0,447.8 71.8,449.6 74.0,449.4 C76.2,449.2 78.3,446.9 81.1,445.8 C83.9,444.7 87.8,442.9 90.6,442.9 C93.4,442.9 95.4,445.0 97.7,445.8 C100.0,446.6 102.5,447.5 104.5,447.6 C106.5,447.7 107.5,447.9 109.5,446.4 C111.5,444.9 114.2,441.8 116.6,438.7 C119.0,435.6 121.5,431.2 123.7,428.0 C125.9,424.8 128.0,421.8 129.7,419.7 C131.4,417.6 132.4,417.1 133.8,415.4 C135.2,413.7 136.7,411.5 138.2,409.7 C139.7,407.9 140.9,406.1 142.7,404.8 C144.5,403.5 147.1,402.2 148.9,402.1 C150.7,402.0 152.0,403.0 153.3,404.3 C154.6,405.6 155.8,408.1 156.9,409.7 C158.0,411.3 159.0,412.7 160.0,414.1 C161.0,415.5 161.8,417.1 163.0,418.0 C164.2,418.9 165.7,418.9 167.3,419.7 C168.9,420.5 170.9,421.6 172.7,423.0 C174.5,424.4 176.2,426.3 178.0,428.3 C179.8,430.3 181.5,433.1 183.3,435.0 C185.1,436.9 186.9,438.5 188.7,439.7 C190.5,440.9 192.0,441.6 194.0,442.3 C196.0,443.0 198.5,443.5 200.7,443.7 C202.9,443.9 205.0,443.8 207.3,443.7 C209.6,443.6 213.2,443.1 214.4,443.0" stroke="#111" stroke-width="1.4"/>
<path d="M56.8,447.0 C57.7,447.2 60.2,447.7 62.1,448.2 C64.0,448.7 66.0,449.4 68.0,450.0 C70.0,450.6 72.0,451.0 74.0,451.7 C76.0,452.4 77.9,453.4 79.9,454.1 C81.9,454.8 83.6,455.4 85.8,455.9 C88.0,456.4 90.7,457.1 92.9,457.1 C95.1,457.1 97.0,456.3 98.9,455.9 C100.8,455.5 102.7,455.4 104.5,454.7 C106.3,454.0 107.7,453.6 109.5,451.7 C111.3,449.8 113.4,446.3 115.4,443.4 C117.4,440.4 119.4,437.1 121.4,434.0 C123.4,430.9 125.6,427.2 127.3,424.5 C129.0,421.8 130.3,419.5 131.5,418.0 C132.7,416.5 133.3,415.7 134.2,415.4 C135.1,415.1 135.9,415.7 137.0,416.2 C138.1,416.7 139.7,417.6 141.0,418.2 C142.3,418.8 143.3,419.6 144.7,420.0 C146.1,420.4 148.0,420.8 149.6,420.8 C151.2,420.8 152.4,420.3 154.0,420.2 C155.6,420.1 157.7,419.7 159.0,420.2 C160.3,420.7 160.8,421.2 162.0,423.0 C163.2,424.8 164.7,428.3 166.0,431.0 C167.3,433.7 168.4,436.1 170.0,439.0 C171.6,441.9 173.5,445.8 175.3,448.3 C177.1,450.9 178.9,452.9 180.7,454.3 C182.5,455.8 184.2,456.8 186.0,457.0 C187.8,457.2 189.5,456.4 191.3,455.7 C193.1,455.0 194.7,454.1 196.7,453.0 C198.7,451.9 201.1,450.0 203.3,449.0 C205.5,448.0 208.2,447.4 210.0,447.0 C211.8,446.6 213.7,446.8 214.4,446.7" stroke="#e8302a" stroke-width="1.4"/>
<path d="M159.3,385.7 C160.2,387.0 162.9,391.0 164.7,393.7 C166.4,396.3 168.2,399.2 170.0,401.7 C171.8,404.1 173.6,405.9 175.3,408.3 C177.1,410.8 178.9,413.4 180.7,416.3 C182.4,419.2 184.2,422.8 186.0,425.7 C187.8,428.6 189.6,431.4 191.3,433.7 C193.1,435.9 194.7,437.7 196.7,439.0 C198.7,440.3 201.1,441.0 203.3,441.7 C205.6,442.3 208.2,442.5 210.0,442.7 C211.8,443.0 213.7,443.2 214.4,443.3" stroke="#111" stroke-width="1.4"/>
<path d="M174.0,385.7 C175.1,387.0 178.7,391.2 180.7,393.7 C182.7,396.1 184.2,398.1 186.0,400.3 C187.8,402.6 189.6,405.2 191.3,407.0 C193.1,408.8 194.7,409.7 196.7,411.0 C198.7,412.3 201.1,413.7 203.3,415.0 C205.6,416.3 208.2,418.1 210.0,419.0 C211.8,419.9 213.7,420.1 214.4,420.3" stroke="#111" stroke-width="1.4"/>
<path d="M56.8,551.5 C57.7,551.6 60.4,552.1 62.1,552.1 C63.8,552.1 65.3,551.9 66.9,551.5 C68.5,551.1 70.0,550.8 71.6,549.7 C73.2,548.6 74.5,547.2 76.3,545.0 C78.1,542.8 80.3,539.5 82.3,536.7 C84.3,533.9 86.2,531.0 88.2,528.4 C90.2,525.8 92.3,522.9 94.1,521.3 C95.9,519.7 97.1,519.3 98.9,518.9 C100.7,518.5 102.6,518.5 104.8,518.7 C107.0,518.9 109.5,519.3 111.9,520.1 C114.3,520.9 116.6,522.1 119.0,523.7 C121.4,525.3 124.1,528.0 126.1,529.6 C128.1,531.2 129.4,532.4 130.9,533.5 C132.4,534.6 133.7,535.3 135.3,536.5 C136.9,537.7 138.9,539.4 140.7,540.8 C142.5,542.2 144.6,544.1 146.0,545.0 C147.4,545.9 148.2,546.4 149.3,546.3 C150.4,546.2 151.5,545.4 152.7,544.3 C153.9,543.2 155.1,541.4 156.7,539.7 C158.2,538.0 160.0,535.9 162.0,534.3 C164.0,532.7 166.7,530.8 168.7,530.3 C170.7,529.8 172.0,530.3 174.0,531.0 C176.0,531.7 178.5,532.8 180.7,534.3 C182.9,535.8 185.1,537.9 187.3,539.7 C189.5,541.5 191.8,543.5 194.0,545.0 C196.2,546.5 198.5,547.9 200.7,549.0 C202.9,550.1 205.0,551.2 207.3,551.7 C209.6,552.2 213.1,551.7 214.3,551.7" stroke="#111" stroke-width="1.4"/>
<path d="M56.8,551.9 C57.7,552.1 60.0,552.8 62.1,553.3 C64.2,553.8 67.2,555.3 69.2,555.1 C71.2,554.9 72.2,553.8 74.0,552.1 C75.8,550.4 77.9,547.6 79.9,545.0 C81.9,542.4 83.8,539.5 85.8,536.7 C87.8,533.9 89.7,530.7 91.7,528.4 C93.7,526.1 95.5,524.4 97.7,523.1 C99.9,521.8 102.4,520.9 104.8,520.7 C107.2,520.5 109.5,521.0 111.9,521.9 C114.3,522.8 116.6,524.3 119.0,526.0 C121.4,527.7 124.1,530.3 126.1,532.0 C128.1,533.7 129.4,534.8 130.9,536.0 C132.4,537.2 133.7,538.1 135.3,539.5 C136.9,540.9 138.9,542.6 140.7,544.2 C142.5,545.8 144.6,547.6 146.0,549.0 C147.4,550.4 147.5,552.2 149.3,552.3 C151.1,552.4 154.1,550.6 156.7,549.7 C159.3,548.8 162.0,547.7 164.7,547.0 C167.4,546.3 170.0,546.0 172.7,545.7 C175.4,545.4 178.3,544.8 180.7,545.0 C183.1,545.2 185.1,545.9 187.3,547.0 C189.5,548.1 191.8,550.2 194.0,551.7 C196.2,553.2 198.9,554.9 200.7,555.7 C202.5,556.5 203.1,556.6 204.7,556.3 C206.2,556.0 208.4,554.5 210.0,553.7 C211.6,552.9 213.6,552.0 214.3,551.7" stroke="#111" stroke-width="1.4"/>
<path d="M149.3,552.3 C150.5,552.5 154.1,553.4 156.7,553.7 C159.3,554.0 162.0,554.0 164.7,554.3 C167.4,554.6 170.0,554.6 172.7,555.7 C175.4,556.8 178.0,559.0 180.7,561.0 C183.4,563.0 186.3,566.0 188.7,567.7 C191.1,569.4 193.3,570.8 195.3,571.0 C197.3,571.2 198.7,569.7 200.7,569.0 C202.7,568.3 205.0,567.3 207.3,567.0 C209.6,566.7 213.1,567.0 214.3,567.0" stroke="#111" stroke-width="1.4"/>
<path d="M56.8,587.1 C57.5,586.8 59.2,586.6 60.9,585.3 C62.6,584.0 64.9,581.0 66.9,579.4 C68.9,577.8 70.8,575.5 72.8,575.4 C74.8,575.2 76.7,576.6 78.7,578.5 C80.7,580.4 82.6,584.3 84.6,586.9 C86.6,589.5 88.6,592.3 90.6,594.0 C92.6,595.7 94.7,596.9 96.5,597.3 C98.3,597.7 99.8,596.8 101.2,596.3 C102.6,595.8 103.0,595.7 104.8,594.6 C106.6,593.5 109.5,591.8 111.9,589.9 C114.3,588.0 116.6,585.7 119.0,583.5 C121.4,581.3 124.1,578.6 126.1,576.5 C128.1,574.4 129.4,572.9 130.9,571.1 C132.4,569.3 133.7,567.4 135.3,565.5 C136.9,563.6 138.9,561.6 140.7,559.7 C142.5,557.8 144.6,555.5 146.0,554.3 C147.4,553.1 148.8,552.6 149.3,552.3" stroke="#111" stroke-width="1.4"/>
<path d="M56.8,567.5 C57.7,567.5 60.4,567.1 62.1,567.3 C63.8,567.5 65.3,568.1 66.9,568.7 C68.5,569.3 69.6,569.9 71.6,571.1 C73.6,572.3 76.3,574.0 78.7,575.8 C81.1,577.6 83.4,580.1 85.8,582.1 C88.2,584.1 90.5,586.2 92.9,588.0 C95.3,589.8 98.0,591.8 100.0,592.8 C102.0,593.8 102.8,594.2 104.8,594.2 C106.8,594.2 109.5,593.5 111.9,592.5 C114.3,591.5 116.6,590.1 119.0,588.5 C121.4,586.9 124.3,584.7 126.1,583.0 C127.9,581.3 128.5,580.2 130.0,578.3 C131.5,576.4 133.5,573.9 135.3,571.7 C137.1,569.5 138.9,567.0 140.7,565.0 C142.5,563.0 144.6,560.9 146.0,559.7 C147.4,558.5 148.0,557.5 149.3,557.7 C150.6,557.9 152.3,559.6 154.0,561.0 C155.7,562.4 157.3,564.3 159.3,566.3 C161.3,568.3 163.8,570.8 166.0,573.0 C168.2,575.2 170.5,577.5 172.7,579.7 C174.9,581.9 177.1,584.3 179.3,586.3 C181.5,588.3 184.2,590.8 186.0,591.7 C187.8,592.6 188.4,592.8 190.0,591.7 C191.6,590.6 193.5,586.8 195.3,585.0 C197.1,583.2 198.7,581.2 200.7,581.0 C202.7,580.8 205.0,582.7 207.3,583.7 C209.6,584.7 213.1,586.5 214.3,587.0" stroke="#111" stroke-width="1.4"/>
<path d="M56.8,628.9 C57.7,628.6 60.0,627.8 62.1,627.1 C64.2,626.4 66.8,625.2 69.2,624.8 C71.6,624.4 73.7,624.4 76.3,624.5 C78.9,624.6 82.2,625.8 84.6,625.4 C87.0,625.0 88.6,623.6 90.6,622.4 C92.6,621.2 94.1,619.3 96.5,618.3 C98.9,617.3 102.6,616.3 104.8,616.2 C107.0,616.1 107.9,617.0 109.5,617.7 C111.1,618.4 112.7,620.2 114.3,620.6 C115.9,621.0 117.6,621.1 119.0,620.0 C120.4,618.9 121.4,616.7 122.6,614.1 C123.8,611.5 124.7,608.4 126.1,604.6 C127.5,600.9 129.4,595.8 130.9,591.6 C132.4,587.5 133.7,582.8 135.3,579.7 C136.9,576.6 138.9,575.0 140.7,573.0 C142.5,571.0 144.6,568.7 146.0,567.7 C147.4,566.7 148.0,567.0 149.3,567.0 C150.6,567.0 152.6,566.9 154.0,567.7 C155.4,568.5 156.8,570.5 158.0,572.0 C159.2,573.5 160.0,575.2 161.0,577.0 C162.0,578.8 163.0,581.0 164.0,583.0 C165.0,585.0 166.0,587.1 167.0,589.0 C168.0,590.9 168.6,592.4 170.0,594.5 C171.4,596.6 173.3,599.4 175.3,601.7 C177.3,604.0 180.0,607.3 182.0,608.3 C184.0,609.3 185.5,607.5 187.3,607.7 C189.1,607.9 190.7,608.3 192.7,609.7 C194.7,611.1 197.1,614.1 199.3,616.3 C201.5,618.5 204.2,621.2 206.0,623.0 C207.8,624.8 208.6,626.0 210.0,627.0 C211.4,628.0 213.6,628.7 214.3,629.0" stroke="#111" stroke-width="1.4"/>
<path d="M56.8,628.9 C57.7,629.4 60.0,630.2 62.1,631.9 C64.2,633.6 66.8,637.0 69.2,639.0 C71.6,641.0 74.3,643.3 76.3,643.7 C78.3,644.1 79.5,642.5 81.1,641.4 C82.7,640.3 83.8,638.1 85.8,637.2 C87.8,636.3 89.7,636.0 92.9,636.0 C96.1,636.0 101.6,636.4 104.8,636.9 C108.0,637.4 110.1,638.9 111.9,639.0 C113.7,639.1 114.2,639.6 115.4,637.8 C116.6,636.0 117.6,632.0 119.0,628.3 C120.4,624.5 122.1,619.8 123.7,615.3 C125.3,610.8 127.2,605.0 128.5,601.1 C129.8,597.2 130.4,594.7 131.5,592.0 C132.6,589.3 133.8,587.7 135.3,585.0 C136.8,582.3 138.9,578.4 140.7,575.7 C142.5,573.0 144.6,570.4 146.0,569.0 C147.4,567.6 148.2,567.1 149.3,567.5 C150.4,567.9 151.7,569.6 152.7,571.2 C153.7,572.8 154.6,574.9 155.5,577.0 C156.4,579.1 157.2,581.7 158.0,584.0 C158.8,586.3 159.6,588.7 160.5,591.0 C161.4,593.3 162.2,594.9 163.3,598.0 C164.4,601.1 166.0,605.8 167.3,609.7 C168.6,613.7 170.0,618.2 171.3,621.7 C172.6,625.2 174.0,628.8 175.3,631.0 C176.6,633.2 178.0,634.5 179.3,635.0 C180.6,635.5 181.7,633.4 183.3,633.7 C184.9,634.0 186.9,635.9 188.7,637.0 C190.5,638.1 192.4,639.5 194.0,640.3 C195.6,641.1 196.4,642.1 198.0,641.7 C199.6,641.3 201.5,639.3 203.3,637.7 C205.1,636.1 206.9,633.8 208.7,632.3 C210.5,630.8 213.4,629.5 214.3,629.0" stroke="#111" stroke-width="1.4"/>
<path d="M74.4,651.5 C74.7,651.1 75.6,649.8 76.3,649.4 C77.0,649.0 78.0,649.0 78.7,649.4 C79.4,649.8 80.4,651.1 80.7,651.5" stroke="#111" stroke-width="1.4"/>
<path d="M111.7,651.5 C112.0,651.2 113.1,650.0 113.7,649.7 C114.3,649.4 114.8,649.4 115.4,649.7 C116.0,650.0 117.1,651.2 117.4,651.5" stroke="#111" stroke-width="1.4"/>
<path d="M172.5,651.5 C173.2,650.3 175.6,645.4 176.7,644.3 C177.8,643.2 178.2,643.8 179.3,645.0 C180.4,646.2 182.8,650.4 183.5,651.5" stroke="#111" stroke-width="1.4"/>
</g>
<g clip-path="url(#ccd)" fill="none" stroke-linejoin="round" stroke-linecap="round">
<path d="M214.8,459.1 L229.3,458.5 L296.7,457.7 L325.6,456.8 L287.0,455.2 L260.1,453.3 L251.4,450.8 L260.1,446.2 L275.5,444.2 L252.4,440.8 L242.7,436.9 L238.9,431.2 L250.4,428.3 L254.3,424.4 L267.8,421.5 L281.3,418.1 L263.9,414.8 L250.4,410.9 L245.6,408.0 L249.5,401.3 L238.9,398.8 L262.0,397.4 L276.4,396.1 L260.1,394.6 L248.5,390.7 L239.9,387.2 L238.0,385.0" stroke="#111" stroke-width="1.4"/>
<path d="M214.8,459.1 C217.2,458.9 225.0,458.5 229.3,458.1 C233.6,457.7 240.8,457.3 240.8,456.8 C240.8,456.3 232.2,456.1 229.3,455.2 C226.4,454.3 223.7,453.2 223.5,451.4 C223.3,449.6 228.6,447.0 228.3,444.6 C228.0,442.2 222.7,439.5 221.6,436.9 C220.5,434.3 220.3,431.8 221.6,429.2 C222.9,426.6 227.7,423.8 229.3,421.5 C230.9,419.2 231.8,418.3 231.2,415.7 C230.5,413.1 227.0,409.0 225.4,406.1 C223.8,403.2 220.9,400.0 221.6,398.4 C222.2,396.8 229.2,397.6 229.3,396.5 C229.5,395.4 223.9,393.2 222.5,391.7 C221.1,390.1 221.0,388.3 220.6,387.2 C220.2,386.1 220.1,385.4 220.0,385.0" stroke="#e02828" stroke-width="1.3"/>
<path d="M215.5,459.0 C216.2,458.7 219.2,458.0 219.6,457.2 C220.0,456.4 218.2,457.0 217.7,454.3 C217.2,451.6 216.7,445.3 216.7,440.8 C216.7,436.3 217.2,431.2 217.7,427.3 C218.2,423.4 219.8,421.2 219.6,417.7 C219.4,414.2 216.9,409.6 216.7,406.1 C216.4,402.6 218.2,399.6 218.1,396.5 C217.9,393.4 216.2,388.8 215.8,387.2" stroke="#30d030" stroke-width="1.2"/>
<path d="M215.3,387.0 L215.6,420.0 L215.2,459.0" stroke="#1a1ab0" stroke-width="1.5"/>
<path d="M214.8,518.1 L240.0,519.3 L260.1,520.0 L237.9,523.3 L252.4,525.2 L262.0,527.7 L272.6,531.0 L265.9,534.9 L257.2,539.7 L261.0,543.5 L273.6,545.8 L258.2,548.3 L248.5,552.2 L235.0,556.6 L240.8,560.9 L254.3,565.7 L273.6,570.1 L256.2,572.4 L250.4,575.3 L256.2,577.9 L261.0,579.8 L262.0,583.7 L256.2,586.6 L259.1,590.4 L257.2,593.3 L259.1,597.1 L248.5,599.1 L233.1,601.0 L229.3,603.9 L235.0,607.7 L242.7,610.6 L238.9,612.6 L246.6,615.4 L252.4,618.3 L248.5,620.3 L261.0,622.8 L252.4,624.7 L225.4,628.0 L238.9,628.9 L257.2,631.2 L246.6,633.7 L283.2,636.2 L258.2,638.6 L219.6,643.4 L248.5,646.3 L269.7,650.1 L275.0,651.5" stroke="#111" stroke-width="1.4"/>
<path d="M214.8,518.3 C216.2,518.8 220.8,521.0 223.5,521.4 C226.2,521.8 230.6,519.9 231.2,520.4 C231.8,520.9 226.7,522.7 227.3,524.3 C227.9,525.9 234.3,528.1 235.0,530.0 C235.7,531.9 231.3,533.2 231.2,535.8 C231.0,538.4 234.8,542.8 234.1,545.4 C233.4,548.0 229.4,549.3 227.3,551.2 C225.2,553.1 221.6,554.8 221.6,557.0 C221.6,559.2 224.9,562.5 227.3,564.7 C229.7,567.0 235.7,568.7 236.0,570.5 C236.3,572.3 230.1,573.6 229.3,575.3 C228.5,577.0 231.2,578.6 231.2,580.8 C231.2,583.0 229.8,585.9 229.3,588.5 C228.8,591.1 229.3,594.0 228.3,596.2 C227.3,598.5 224.6,600.1 223.5,602.0 C222.4,603.9 221.3,605.8 221.6,607.7 C221.9,609.6 224.1,611.1 225.4,613.5 C226.7,615.9 230.3,619.8 229.3,622.2 C228.3,624.6 219.9,626.5 219.6,628.0 C219.3,629.5 223.8,629.5 227.3,630.9 C230.8,632.3 240.5,634.8 240.8,636.2 C241.1,637.6 233.2,638.3 229.3,639.5 C225.5,640.7 218.3,642.1 217.7,643.4 C217.0,644.7 222.8,646.1 225.4,647.2 C228.0,648.3 231.3,649.4 233.1,650.1 C234.9,650.8 235.5,651.3 236.0,651.5" stroke="#e02828" stroke-width="1.3"/>
<path d="M215.5,518.5 C215.8,520.4 216.9,525.6 217.0,530.0 C217.1,534.4 216.1,540.0 216.2,545.0 C216.2,550.0 217.3,554.2 217.3,560.0 C217.3,565.8 216.3,573.3 216.3,580.0 C216.3,586.7 217.5,593.3 217.5,600.0 C217.5,606.7 216.4,614.2 216.5,620.0 C216.6,625.8 217.8,630.8 217.8,635.0 C217.8,639.2 216.5,642.3 216.5,645.0 C216.5,647.7 217.8,650.0 218.0,651.0" stroke="#30d030" stroke-width="1.2"/>
<path d="M215.3,518.5 C215.4,522.1 216.0,533.1 216.0,540.0 C216.0,546.9 215.3,552.5 215.4,560.0 C215.5,567.5 216.3,578.3 216.3,585.0 C216.3,591.7 215.5,595.0 215.5,600.0 C215.5,605.0 216.5,608.3 216.5,615.0 C216.5,621.7 215.2,634.5 215.5,640.0 C215.8,645.5 217.1,646.2 218.0,648.0 C218.9,649.8 220.5,650.5 221.0,651.0" stroke="#1a1ab0" stroke-width="1.4"/>
</g>
<rect x="57.0" y="386.3" width="157.7" height="265.09999999999997" fill="none" stroke="#111" stroke-width="1.3"/>
<rect x="214.7" y="386.3" width="121.40000000000003" height="265.09999999999997" fill="none" stroke="#111" stroke-width="1.3"/>
<line x1="50.8" y1="386.29" x2="57.0" y2="386.29" stroke="#111" stroke-width="1.2"/>
<text x="47.2" y="385.49" font-family="&quot;Liberation Sans&quot;, sans-serif" font-size="10.8" font-weight="bold" fill="#111" stroke="#111" stroke-width="0.3" text-anchor="end" dominant-baseline="central">4</text>
<line x1="50.8" y1="452.57000000000005" x2="57.0" y2="452.57000000000005" stroke="#111" stroke-width="1.2"/>
<text x="47.2" y="451.77000000000004" font-family="&quot;Liberation Sans&quot;, sans-serif" font-size="10.8" font-weight="bold" fill="#111" stroke="#111" stroke-width="0.3" text-anchor="end" dominant-baseline="central">2</text>
<line x1="50.8" y1="518.85" x2="57.0" y2="518.85" stroke="#111" stroke-width="1.2"/>
<text x="47.2" y="518.0500000000001" font-family="&quot;Liberation Sans&quot;, sans-serif" font-size="10.8" font-weight="bold" fill="#111" stroke="#111" stroke-width="0.3" text-anchor="end" dominant-baseline="central">0</text>
<line x1="50.8" y1="585.13" x2="57.0" y2="585.13" stroke="#111" stroke-width="1.2"/>
<text x="47.2" y="584.33" font-family="&quot;Liberation Sans&quot;, sans-serif" font-size="10.8" font-weight="bold" fill="#111" stroke="#111" stroke-width="0.3" text-anchor="end" dominant-baseline="central">-2</text>
<line x1="50.8" y1="651.4100000000001" x2="57.0" y2="651.4100000000001" stroke="#111" stroke-width="1.2"/>
<text x="47.2" y="650.6100000000001" font-family="&quot;Liberation Sans&quot;, sans-serif" font-size="10.8" font-weight="bold" fill="#111" stroke="#111" stroke-width="0.3" text-anchor="end" dominant-baseline="central">-4</text>
<line x1="53.5" y1="419.43" x2="57.0" y2="419.43" stroke="#111" stroke-width="1.2"/>
<line x1="53.5" y1="485.71000000000004" x2="57.0" y2="485.71000000000004" stroke="#111" stroke-width="1.2"/>
<line x1="53.5" y1="551.99" x2="57.0" y2="551.99" stroke="#111" stroke-width="1.2"/>
<line x1="53.5" y1="618.27" x2="57.0" y2="618.27" stroke="#111" stroke-width="1.2"/>
<line x1="92.6" y1="463.3" x2="92.6" y2="512.85" stroke="#e010e0" stroke-width="1.4"/>
<polygon points="92.6,457.3 90.3,463.8 94.89999999999999,463.8" fill="#e010e0"/>
<polygon points="92.6,518.85 90.3,512.35 94.89999999999999,512.35" fill="#e010e0"/>
<line x1="187.2" y1="464.1" x2="187.2" y2="512.85" stroke="#1010d8" stroke-width="1.4"/>
<polygon points="187.2,458.1 184.89999999999998,464.6 189.5,464.6" fill="#1010d8"/>
<polygon points="187.2,518.85 184.89999999999998,512.35 189.5,512.35" fill="#1010d8"/>
<text x="97.8" y="477.2" font-family="&quot;Liberation Sans&quot;, sans-serif" font-size="12.3" font-weight="bold" fill="#e010e0" stroke="#e010e0" stroke-width="0.3" text-anchor="start" dominant-baseline="central">1.87 eV</text>
<text x="137.3" y="499.7" font-family="&quot;Liberation Sans&quot;, sans-serif" font-size="12.3" font-weight="bold" fill="#1515c0" stroke="#1515c0" stroke-width="0.3" text-anchor="start" dominant-baseline="central">1.84 eV</text>
<text x="57.0" y="668.8" font-family="&quot;Liberation Sans&quot;, sans-serif" font-size="13" font-weight="bold" fill="#111" stroke="#111" stroke-width="0.3" text-anchor="middle" dominant-baseline="central">G</text>
<text x="104.3" y="668.8" font-family="&quot;Liberation Sans&quot;, sans-serif" font-size="13" font-weight="bold" fill="#111" stroke="#111" stroke-width="0.3" text-anchor="middle" dominant-baseline="central">X</text>
<text x="150.6" y="668.8" font-family="&quot;Liberation Sans&quot;, sans-serif" font-size="13" font-weight="bold" fill="#111" stroke="#111" stroke-width="0.3" text-anchor="middle" dominant-baseline="central">M</text>
<text x="214.7" y="668.8" font-family="&quot;Liberation Sans&quot;, sans-serif" font-size="13" font-weight="bold" fill="#111" stroke="#111" stroke-width="0.3" text-anchor="middle" dominant-baseline="central">G</text>
<text x="130.5" y="685.5" font-family="&quot;Liberation Sans&quot;, sans-serif" font-size="12.5" font-weight="bold" fill="#111" stroke="#111" stroke-width="0.3" text-anchor="middle" dominant-baseline="central">K paths</text>
<text x="275.5" y="685.5" font-family="&quot;Liberation Sans&quot;, sans-serif" font-size="12.5" font-weight="bold" fill="#111" stroke="#111" stroke-width="0.3" text-anchor="middle" dominant-baseline="central">DOS (e/eV)</text>
<line x1="226.84" y1="651.4" x2="226.84" y2="654.4" stroke="#111" stroke-width="1.2"/>
<line x1="238.98" y1="651.4" x2="238.98" y2="656.6" stroke="#111" stroke-width="1.2"/>
<text x="238.98" y="668.8" font-family="&quot;Liberation Sans&quot;, sans-serif" font-size="10.5" font-weight="bold" fill="#111" stroke="#111" stroke-width="0.3" text-anchor="middle" dominant-baseline="central">2</text>
<line x1="251.12" y1="651.4" x2="251.12" y2="654.4" stroke="#111" stroke-width="1.2"/>
<line x1="263.26" y1="651.4" x2="263.26" y2="656.6" stroke="#111" stroke-width="1.2"/>
<text x="263.26" y="668.8" font-family="&quot;Liberation Sans&quot;, sans-serif" font-size="10.5" font-weight="bold" fill="#111" stroke="#111" stroke-width="0.3" text-anchor="middle" dominant-baseline="central">4</text>
<line x1="275.40000000000003" y1="651.4" x2="275.40000000000003" y2="654.4" stroke="#111" stroke-width="1.2"/>
<line x1="287.54" y1="651.4" x2="287.54" y2="656.6" stroke="#111" stroke-width="1.2"/>
<text x="287.54" y="668.8" font-family="&quot;Liberation Sans&quot;, sans-serif" font-size="10.5" font-weight="bold" fill="#111" stroke="#111" stroke-width="0.3" text-anchor="middle" dominant-baseline="central">6</text>
<line x1="299.68" y1="651.4" x2="299.68" y2="654.4" stroke="#111" stroke-width="1.2"/>
<line x1="311.82000000000005" y1="651.4" x2="311.82000000000005" y2="656.6" stroke="#111" stroke-width="1.2"/>
<text x="311.82000000000005" y="668.8" font-family="&quot;Liberation Sans&quot;, sans-serif" font-size="10.5" font-weight="bold" fill="#111" stroke="#111" stroke-width="0.3" text-anchor="middle" dominant-baseline="central">8</text>
<line x1="323.96000000000004" y1="651.4" x2="323.96000000000004" y2="654.4" stroke="#111" stroke-width="1.2"/>
<line x1="336.1" y1="651.4" x2="336.1" y2="656.6" stroke="#111" stroke-width="1.2"/>
<text x="336.1" y="668.8" font-family="&quot;Liberation Sans&quot;, sans-serif" font-size="10.5" font-weight="bold" fill="#111" stroke="#111" stroke-width="0.3" text-anchor="middle" dominant-baseline="central">10</text>
<text x="0" y="0" font-family="&quot;Liberation Sans&quot;, sans-serif" font-size="12.3" font-weight="bold" fill="#111" stroke="#111" stroke-width="0.3" text-anchor="middle" transform="translate(18.3 527.4) rotate(-90) scale(1.066 1)">Energy (eV)</text>
<text x="21.8" y="378.6" font-family="&quot;Liberation Serif&quot;, serif" font-size="19" font-weight="bold" fill="#111" stroke="#111" stroke-width="0.3" text-anchor="middle" dominant-baseline="central">(c)</text>
<line x1="271.8" y1="474.1" x2="301.5" y2="474.1" stroke="#40e0f0" stroke-width="1.3"/>
<text x="306" y="474.1" font-family="&quot;Liberation Sans&quot;, sans-serif" font-size="12.5" font-weight="bold" fill="#40e0f0" stroke="#40e0f0" stroke-width="0.3" text-anchor="start" dominant-baseline="central">B_s</text>
<line x1="271.8" y1="490.5" x2="301.5" y2="490.5" stroke="#1a1ac0" stroke-width="1.3"/>
<text x="306" y="490.5" font-family="&quot;Liberation Sans&quot;, sans-serif" font-size="12.5" font-weight="bold" fill="#1a1ac0" stroke="#1a1ac0" stroke-width="0.3" text-anchor="start" dominant-baseline="central">B_p</text>
<line x1="271.8" y1="506.9" x2="301.5" y2="506.9" stroke="#30e030" stroke-width="1.3"/>
<text x="306" y="506.9" font-family="&quot;Liberation Sans&quot;, sans-serif" font-size="12.5" font-weight="bold" fill="#30e030" stroke="#30e030" stroke-width="0.3" text-anchor="start" dominant-baseline="central">P_s</text>
<line x1="271.8" y1="522.9" x2="301.5" y2="522.9" stroke="#e02020" stroke-width="1.3"/>
<text x="306" y="522.9" font-family="&quot;Liberation Sans&quot;, sans-serif" font-size="12.5" font-weight="bold" fill="#e02020" stroke="#e02020" stroke-width="0.3" text-anchor="start" dominant-baseline="central">P_p</text>
<line x1="271.8" y1="539.0" x2="301.5" y2="539.0" stroke="#111" stroke-width="1.3"/>
<text x="306" y="539.0" font-family="&quot;Liberation Sans&quot;, sans-serif" font-size="12.5" font-weight="bold" fill="#111" stroke="#111" stroke-width="0.3" text-anchor="start" dominant-baseline="central">Total</text>
<line x1="478.6" y1="386.7" x2="478.6" y2="653.7" stroke="#e4f7e4" stroke-width="5.0"/>
<line x1="478.6" y1="386.7" x2="478.6" y2="653.7" stroke="#6cd66c" stroke-width="1.7"/>
<line x1="553.3" y1="386.7" x2="553.3" y2="653.7" stroke="#e4f7e4" stroke-width="5.0"/>
<line x1="553.3" y1="386.7" x2="553.3" y2="653.7" stroke="#6cd66c" stroke-width="1.7"/>
<line x1="398.6" y1="430.75500000000005" x2="663.0" y2="430.75500000000005" stroke="#e03a3a" stroke-width="1.5" stroke-dasharray="4.8 4.8" stroke-dashoffset="0.4"/>
<line x1="398.6" y1="520.2" x2="663.0" y2="520.2" stroke="#e03a3a" stroke-width="1.5" stroke-dasharray="4.8 4.8" stroke-dashoffset="0.4"/>
<g clip-path="url(#cd)" fill="none" stroke-linejoin="round" stroke-linecap="round">
<path d="M398.5,388.2 C399.5,388.1 402.7,387.9 404.3,387.6 C405.9,387.4 407.7,386.9 408.4,386.7" stroke="#111" stroke-width="1.4"/>
<path d="M398.5,413.1 C399.5,412.9 401.9,413.2 404.3,412.0 C406.7,410.8 409.8,408.4 412.6,405.8 C415.4,403.2 418.1,399.3 420.9,396.5 C423.7,393.7 426.4,390.1 429.2,389.2 C432.0,388.3 434.7,390.1 437.5,391.3 C440.3,392.5 443.2,395.1 445.8,396.5 C448.4,397.9 450.6,399.6 453.0,399.6 C455.4,399.6 458.4,397.9 460.3,396.5 C462.2,395.1 463.1,393.0 464.5,391.3 C465.9,389.6 467.9,387.1 468.6,386.2" stroke="#111" stroke-width="1.4"/>
<path d="M398.5,413.1 C400.1,413.5 404.7,414.3 408.4,415.2 C412.1,416.1 417.4,417.4 420.9,418.3 C424.4,419.2 426.4,420.5 429.2,420.8 C432.0,421.1 434.7,420.9 437.5,420.3 C440.3,419.7 443.2,418.2 445.8,417.2 C448.4,416.2 450.6,414.7 453.0,414.5 C455.4,414.3 457.7,415.2 460.3,415.8 C462.9,416.4 465.6,417.7 468.6,418.3 C471.7,418.9 475.5,419.7 478.6,419.6 C481.7,419.5 484.5,418.7 487.3,417.6 C490.1,416.5 492.8,415.0 495.6,413.1 C498.4,411.2 501.1,408.8 503.9,406.4 C506.7,404.0 509.4,401.2 512.2,398.6 C515.0,396.0 518.4,392.7 520.5,390.6 C522.6,388.5 523.9,386.9 524.6,386.2" stroke="#111" stroke-width="1.4"/>
<path d="M398.5,419.3 C400.1,419.3 404.7,419.0 408.4,419.3 C412.1,419.6 416.8,420.5 420.9,421.4 C425.0,422.3 429.1,423.5 433.3,424.5 C437.5,425.5 441.7,426.8 445.8,427.6 C449.9,428.4 454.4,429.1 458.2,429.3 C462.0,429.5 465.2,429.1 468.6,428.8 C472.0,428.6 475.7,428.4 478.6,427.8 C481.5,427.2 483.5,426.2 486.0,425.0 C488.5,423.8 490.9,422.4 493.5,420.3 C496.1,418.2 499.0,415.2 501.8,412.6 C504.6,410.0 507.3,407.4 510.1,404.6 C512.9,401.8 515.6,398.7 518.4,395.6 C521.2,392.5 525.3,387.8 526.7,386.2" stroke="#111" stroke-width="1.4"/>
<path d="M536.0,386.2 C537.3,386.7 541.1,388.3 544.0,389.0 C546.9,389.7 549.9,390.2 553.2,390.4 C556.5,390.6 560.2,389.2 564.0,390.0 C567.8,390.8 572.7,392.3 576.0,395.0 C579.3,397.7 581.3,402.5 584.0,406.0 C586.7,409.5 589.3,413.0 592.0,416.0 C594.7,419.0 597.3,421.8 600.0,424.0 C602.7,426.2 605.0,427.9 608.0,429.0 C611.0,430.1 614.7,430.6 618.0,430.4 C621.3,430.2 625.0,429.1 628.0,428.0 C631.0,426.9 633.3,425.2 636.0,424.0 C638.7,422.8 641.3,421.8 644.0,421.0 C646.7,420.2 648.9,419.7 652.0,419.4 C655.1,419.1 660.7,419.1 662.4,419.0" stroke="#111" stroke-width="1.4"/>
<path d="M576.0,386.2 C578.0,386.8 584.0,388.2 588.0,390.0 C592.0,391.8 596.0,394.7 600.0,397.0 C604.0,399.3 608.0,401.8 612.0,404.0 C616.0,406.2 620.0,408.5 624.0,410.0 C628.0,411.5 632.0,412.3 636.0,413.0 C640.0,413.7 643.6,413.9 648.0,414.0 C652.4,414.1 660.0,413.7 662.4,413.6" stroke="#111" stroke-width="1.4"/>
<path d="M620.0,386.2 C621.7,387.3 626.7,390.5 630.0,393.0 C633.3,395.5 637.0,398.5 640.0,401.0 C643.0,403.5 645.7,406.2 648.0,408.0 C650.3,409.8 651.6,410.7 654.0,411.6 C656.4,412.5 661.0,413.3 662.4,413.6" stroke="#111" stroke-width="1.4"/>
<path d="M656.0,386.4 L662.4,388.0" stroke="#111" stroke-width="1.4"/>
<path d="M398.5,556.2 C400.2,556.4 404.8,557.4 408.6,557.2 C412.4,557.0 417.4,556.7 421.2,555.1 C425.0,553.5 428.2,550.8 431.7,547.8 C435.2,544.8 438.7,540.6 442.2,537.3 C445.7,534.0 449.1,530.3 452.6,527.8 C456.1,525.3 460.0,523.4 463.1,522.2 C466.2,521.0 468.9,520.7 471.5,520.5 C474.1,520.3 475.6,520.6 478.4,520.9 C481.2,521.2 484.6,521.4 488.3,522.2 C492.1,523.0 496.7,524.2 500.9,525.7 C505.1,527.2 509.6,529.2 513.5,531.0 C517.4,532.8 520.2,534.5 524.0,536.2 C527.8,538.0 532.9,539.8 536.4,541.5 C539.9,543.2 542.0,545.5 544.8,546.7 C547.6,547.9 550.4,549.1 553.2,548.8 C556.0,548.4 558.1,546.7 561.6,544.6 C565.1,542.5 570.0,538.1 574.2,536.2 C578.4,534.3 582.9,533.3 586.7,533.1 C590.5,532.9 593.0,533.8 597.2,535.2 C601.4,536.6 607.0,539.2 611.9,541.5 C616.8,543.8 621.7,546.7 626.6,548.8 C631.5,550.9 636.8,552.9 641.3,554.1 C645.8,555.3 650.4,555.9 653.9,556.2 C657.4,556.6 660.9,556.2 662.3,556.2" stroke="#111" stroke-width="1.4"/>
<path d="M398.5,556.2 C400.5,556.6 406.9,558.2 410.7,558.7 C414.5,559.2 417.7,560.2 421.2,559.3 C424.7,558.3 428.2,555.8 431.7,553.0 C435.2,550.2 438.7,545.8 442.2,542.5 C445.7,539.2 448.8,535.9 452.6,533.1 C456.4,530.3 460.9,527.5 465.2,525.7 C469.5,524.0 474.2,523.0 478.4,522.6 C482.6,522.2 486.3,522.7 490.4,523.6 C494.5,524.5 498.8,526.0 503.0,527.8 C507.2,529.5 511.8,532.0 515.6,534.1 C519.5,536.2 522.6,538.5 526.1,540.4 C529.6,542.3 533.3,544.0 536.4,545.7 C539.5,547.5 542.0,549.1 544.8,550.9 C547.6,552.6 550.4,555.9 553.2,556.2 C556.0,556.6 558.1,554.0 561.6,553.0 C565.1,552.0 569.7,551.0 574.2,550.3 C578.7,549.6 583.6,549.0 588.8,548.8 C594.0,548.5 600.7,548.4 605.6,548.8 C610.5,549.1 614.0,549.7 618.2,550.9 C622.4,552.1 626.9,554.6 630.8,556.2 C634.6,557.8 637.8,560.0 641.3,560.3 C644.8,560.6 648.3,558.9 651.8,558.2 C655.3,557.5 660.5,556.5 662.3,556.2" stroke="#111" stroke-width="1.4"/>
<path d="M553.2,556.2 C555.3,556.5 560.9,557.7 565.8,558.2 C570.7,558.7 577.3,558.6 582.5,559.3 C587.7,560.0 592.3,560.8 597.2,562.4 C602.1,564.0 607.7,566.8 611.9,568.7 C616.1,570.6 619.2,572.7 622.4,574.0 C625.5,575.3 627.6,576.2 630.8,576.7 C633.9,577.2 637.8,577.7 641.3,577.1 C644.8,576.5 648.3,573.7 651.8,572.9 C655.3,572.1 660.5,572.6 662.3,572.5" stroke="#111" stroke-width="1.4"/>
<path d="M398.5,572.3 C400.5,572.4 406.6,572.1 410.7,572.9 C414.8,573.7 418.8,575.4 423.3,577.1 C427.8,578.9 433.4,581.5 437.9,583.4 C442.4,585.3 446.3,586.6 450.5,588.7 C454.7,590.8 458.5,593.7 463.1,596.0 C467.8,598.3 473.8,601.6 478.4,602.3 C482.9,603.0 486.3,601.6 490.4,600.2 C494.5,598.8 498.8,596.4 503.0,593.9 C507.2,591.4 511.8,588.3 515.6,585.5 C519.5,582.7 522.6,580.0 526.1,577.1 C529.6,574.2 533.3,570.7 536.4,568.0 C539.5,565.3 542.0,562.9 544.8,561.0 C547.6,559.1 551.8,557.2 553.2,556.4" stroke="#111" stroke-width="1.4"/>
<path d="M398.5,595.0 C399.8,594.6 403.8,594.1 406.5,592.9 C409.2,591.7 412.3,589.2 414.9,587.6 C417.5,586.0 419.8,583.7 422.2,583.0 C424.6,582.3 427.0,582.3 429.6,583.4 C432.2,584.5 434.9,587.2 438.0,589.7 C441.1,592.2 444.9,595.4 448.4,598.1 C451.9,600.8 455.8,604.7 458.9,606.1 C462.0,607.5 464.1,607.1 467.3,606.5 C470.6,605.9 474.5,603.2 478.4,602.7 C482.2,602.2 486.3,603.9 490.4,603.3 C494.5,602.7 498.8,601.1 503.0,599.2 C507.2,597.3 511.8,594.4 515.6,591.8 C519.5,589.2 522.6,586.4 526.1,583.4 C529.6,580.4 533.3,576.9 536.4,574.0 C539.5,571.1 542.0,568.3 544.8,566.2 C547.6,564.1 550.4,561.3 553.2,561.4 C556.0,561.5 558.1,564.5 561.6,566.6 C565.1,568.7 570.0,571.5 574.2,574.0 C578.4,576.5 582.9,579.0 586.7,581.3 C590.5,583.6 593.7,585.3 597.2,587.6 C600.7,589.9 604.2,592.9 607.7,595.0 C611.2,597.1 614.7,600.4 618.2,600.2 C621.7,600.0 624.9,596.0 628.7,593.9 C632.6,591.8 637.4,588.1 641.3,587.6 C645.1,587.1 648.3,589.6 651.8,590.8 C655.3,592.0 660.5,594.3 662.3,595.0" stroke="#111" stroke-width="1.4"/>
<path d="M398.5,639.0 C400.2,638.8 404.8,638.0 408.6,637.5 C412.4,637.0 417.0,636.4 421.2,636.3 C425.4,636.2 429.8,636.8 433.8,636.9 C437.8,637.0 441.8,637.9 445.3,636.9 C448.8,635.9 451.0,632.4 454.7,630.6 C458.4,628.9 463.4,627.2 467.3,626.4 C471.2,625.6 474.9,625.3 478.4,625.8 C481.9,626.3 484.9,628.6 488.3,629.6 C491.7,630.6 496.0,632.2 498.8,631.7 C501.6,631.2 502.7,629.9 505.1,626.4 C507.6,622.9 510.4,616.5 513.5,610.7 C516.6,604.9 521.2,596.4 524.0,591.8 C526.8,587.2 527.9,585.1 530.0,583.0 C532.1,580.9 533.9,580.7 536.4,579.2 C538.9,577.7 542.0,575.2 544.8,574.0 C547.6,572.8 550.1,572.1 553.2,571.9 C556.4,571.7 560.9,571.7 563.7,572.9 C566.5,574.1 567.6,575.7 570.0,579.2 C572.4,582.7 575.5,589.4 578.3,593.9 C581.1,598.4 583.6,603.4 586.7,606.5 C589.9,609.6 593.7,610.5 597.2,612.8 C600.7,615.1 604.2,619.4 607.7,620.1 C611.2,620.8 614.4,617.2 618.2,617.0 C622.1,616.8 626.9,617.4 630.8,619.1 C634.6,620.9 637.4,624.5 641.3,627.5 C645.1,630.5 650.4,635.0 653.9,636.9 C657.4,638.8 660.9,638.6 662.3,639.0" stroke="#111" stroke-width="1.4"/>
<path d="M398.5,639.0 C400.2,639.7 405.2,641.6 408.6,643.2 C412.0,644.8 416.0,646.7 419.1,648.5 C422.2,650.3 426.1,653.1 427.5,654.0" stroke="#111" stroke-width="1.4"/>
<path d="M435.9,654.0 C437.3,653.2 441.4,650.6 444.2,649.5 C447.0,648.4 449.1,647.6 452.6,647.4 C456.1,647.2 460.9,648.2 465.2,648.5 C469.5,648.8 474.2,648.5 478.4,648.9 C482.6,649.3 486.6,652.1 490.4,651.0 C494.1,649.9 497.8,645.8 500.9,642.2 C504.0,638.6 506.5,634.2 509.3,629.6 C512.1,625.0 514.9,620.1 517.7,614.9 C520.5,609.6 523.7,602.6 526.1,598.1 C528.5,593.6 530.3,590.1 532.0,588.0 C533.7,585.9 534.3,587.3 536.4,585.5 C538.5,583.7 542.0,579.3 544.8,577.1 C547.6,574.9 550.4,571.9 553.2,572.3 C556.0,572.6 558.8,575.6 561.6,579.2 C564.4,582.8 567.2,588.6 570.0,593.9 C572.8,599.1 575.5,605.1 578.3,610.7 C581.1,616.3 583.6,622.2 586.7,627.5 C589.9,632.8 593.7,639.4 597.2,642.2 C600.7,645.0 603.9,643.2 607.7,644.3 C611.6,645.3 616.4,646.9 620.3,648.5 C624.1,650.1 629.0,653.1 630.8,654.0" stroke="#111" stroke-width="1.4"/>
<path d="M630.8,654.0 C632.5,653.4 637.8,652.3 641.3,650.5 C644.8,648.7 648.3,645.1 651.8,643.2 C655.3,641.3 660.5,639.7 662.3,639.0" stroke="#111" stroke-width="1.4"/>
</g>
<rect x="398.6" y="386.7" width="264.4" height="267.00000000000006" fill="none" stroke="#111" stroke-width="1.3"/>
<line x1="392.40000000000003" y1="386.70000000000005" x2="398.6" y2="386.70000000000005" stroke="#111" stroke-width="1.2"/>
<text x="388.8" y="385.90000000000003" font-family="&quot;Liberation Sans&quot;, sans-serif" font-size="10.8" font-weight="bold" fill="#111" stroke="#111" stroke-width="0.3" text-anchor="end" dominant-baseline="central">4</text>
<line x1="392.40000000000003" y1="453.45000000000005" x2="398.6" y2="453.45000000000005" stroke="#111" stroke-width="1.2"/>
<text x="388.8" y="452.65000000000003" font-family="&quot;Liberation Sans&quot;, sans-serif" font-size="10.8" font-weight="bold" fill="#111" stroke="#111" stroke-width="0.3" text-anchor="end" dominant-baseline="central">2</text>
<line x1="392.40000000000003" y1="520.2" x2="398.6" y2="520.2" stroke="#111" stroke-width="1.2"/>
<text x="388.8" y="519.4000000000001" font-family="&quot;Liberation Sans&quot;, sans-serif" font-size="10.8" font-weight="bold" fill="#111" stroke="#111" stroke-width="0.3" text-anchor="end" dominant-baseline="central">0</text>
<line x1="392.40000000000003" y1="586.95" x2="398.6" y2="586.95" stroke="#111" stroke-width="1.2"/>
<text x="388.8" y="586.1500000000001" font-family="&quot;Liberation Sans&quot;, sans-serif" font-size="10.8" font-weight="bold" fill="#111" stroke="#111" stroke-width="0.3" text-anchor="end" dominant-baseline="central">-2</text>
<line x1="392.40000000000003" y1="653.7" x2="398.6" y2="653.7" stroke="#111" stroke-width="1.2"/>
<text x="388.8" y="652.9000000000001" font-family="&quot;Liberation Sans&quot;, sans-serif" font-size="10.8" font-weight="bold" fill="#111" stroke="#111" stroke-width="0.3" text-anchor="end" dominant-baseline="central">-4</text>
<line x1="395.1" y1="420.07500000000005" x2="398.6" y2="420.07500000000005" stroke="#111" stroke-width="1.2"/>
<line x1="395.1" y1="486.82500000000005" x2="398.6" y2="486.82500000000005" stroke="#111" stroke-width="1.2"/>
<line x1="395.1" y1="553.575" x2="398.6" y2="553.575" stroke="#111" stroke-width="1.2"/>
<line x1="395.1" y1="620.325" x2="398.6" y2="620.325" stroke="#111" stroke-width="1.2"/>
<line x1="618.6" y1="436.75500000000005" x2="618.6" y2="514.2" stroke="#1010d8" stroke-width="1.4"/>
<polygon points="618.6,430.75500000000005 616.3000000000001,437.25500000000005 620.9,437.25500000000005" fill="#1010d8"/>
<polygon points="618.6,520.2 616.3000000000001,513.7 620.9,513.7" fill="#1010d8"/>
<text x="566.7" y="473.9" font-family="&quot;Liberation Sans&quot;, sans-serif" font-size="12.7" font-weight="bold" fill="#1515c0" stroke="#1515c0" stroke-width="0.3" text-anchor="start" dominant-baseline="central">2.68 eV</text>
<text x="398.6" y="674.7" font-family="&quot;Liberation Sans&quot;, sans-serif" font-size="13" font-weight="bold" fill="#111" stroke="#111" stroke-width="0.3" text-anchor="middle" dominant-baseline="central">G</text>
<text x="478.6" y="674.7" font-family="&quot;Liberation Sans&quot;, sans-serif" font-size="13" font-weight="bold" fill="#111" stroke="#111" stroke-width="0.3" text-anchor="middle" dominant-baseline="central">X</text>
<text x="553.3" y="674.7" font-family="&quot;Liberation Sans&quot;, sans-serif" font-size="13" font-weight="bold" fill="#111" stroke="#111" stroke-width="0.3" text-anchor="middle" dominant-baseline="central">M</text>
<text x="663.0" y="674.7" font-family="&quot;Liberation Sans&quot;, sans-serif" font-size="13" font-weight="bold" fill="#111" stroke="#111" stroke-width="0.3" text-anchor="middle" dominant-baseline="central">G</text>
<text x="0" y="0" font-family="&quot;Liberation Sans&quot;, sans-serif" font-size="12.3" font-weight="bold" fill="#111" stroke="#111" stroke-width="0.3" text-anchor="middle" transform="translate(359.6 529.8) rotate(-90) scale(1.08 1)">Energy (eV)</text>
<text x="365.7" y="378.8" font-family="&quot;Liberation Serif&quot;, serif" font-size="19" font-weight="bold" fill="#111" stroke="#111" stroke-width="0.3" text-anchor="middle" dominant-baseline="central">(d)</text>
</svg>
</body></html>
